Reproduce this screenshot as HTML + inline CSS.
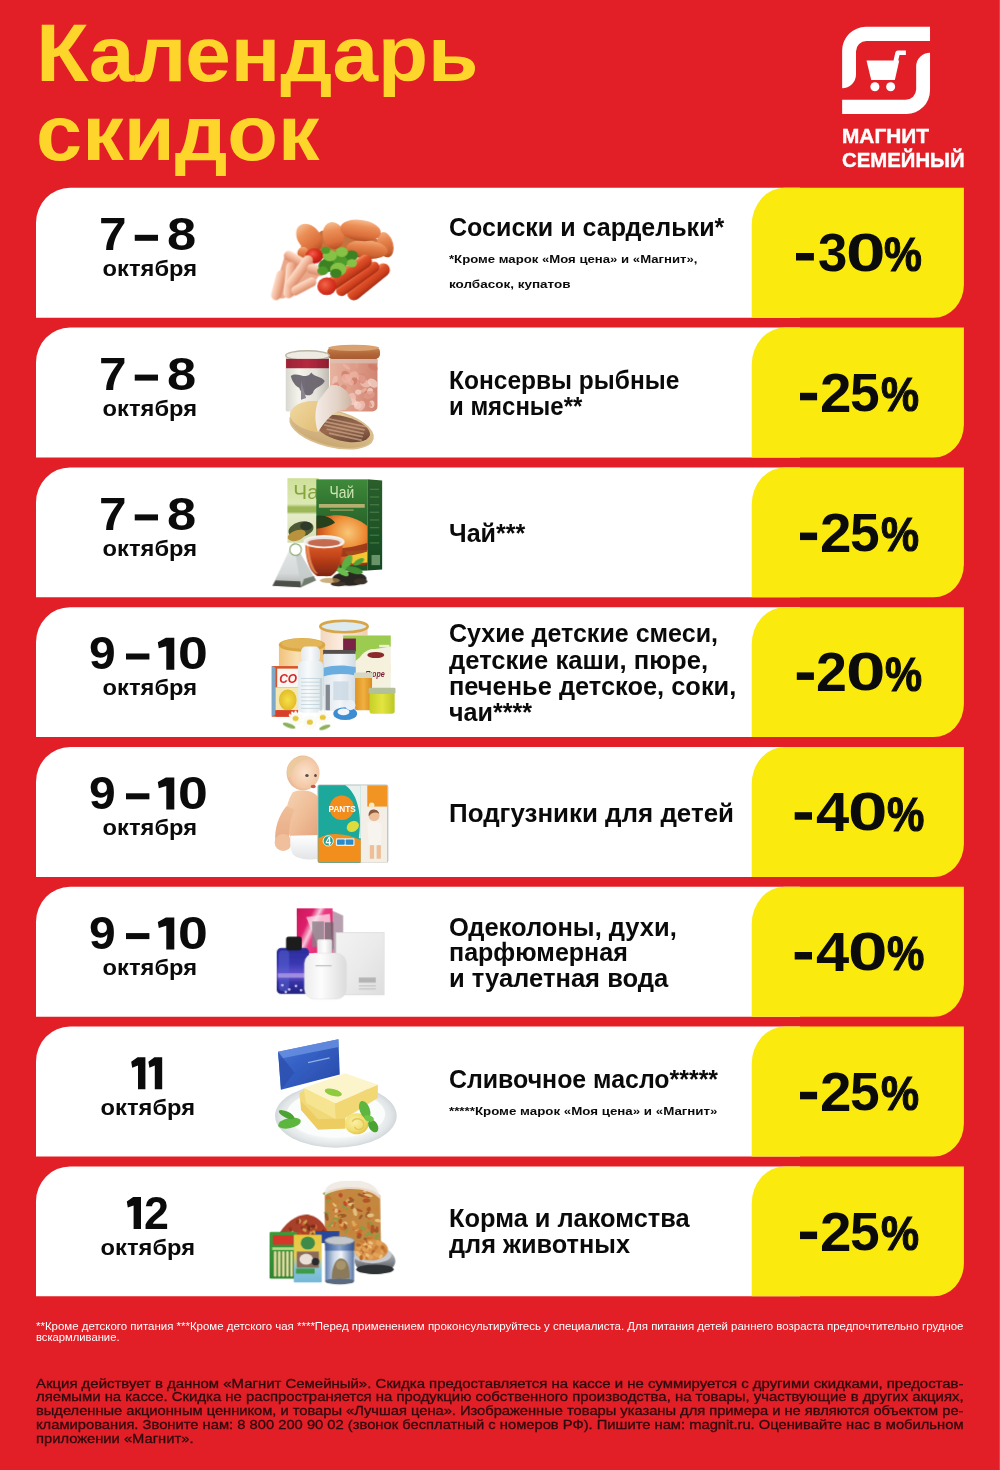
<!DOCTYPE html>
<html><head><meta charset="utf-8"><title>Календарь скидок</title>
<style>
html,body{margin:0;padding:0}
body{width:1000px;height:1470px;position:relative;overflow:hidden;background:#E21E26;font-family:"Liberation Sans", sans-serif;}
.t{position:absolute;white-space:pre;line-height:1;display:block}
.row{position:absolute;left:36px;width:760px;height:130px;background:#fff;border-top-left-radius:38px}
.yel{position:absolute;left:752px;width:212px;height:130px;background:#FBEA0D;border-top-left-radius:28px;border-bottom-right-radius:28px}
.pic{position:absolute;left:250px;width:170px;height:130px}
.f1{position:absolute;left:36px;width:927px;color:#fff;font-size:10px;line-height:11px}
.f2{position:absolute;left:36px;width:927px;color:#2a1012;font-size:13.5px;line-height:14px}
.j{display:block;text-align:justify;text-align-last:justify;white-space:nowrap}
</style></head><body>
<svg style="position:absolute;left:0;top:0" width="1000" height="1470"><path fill="#fff" d="M36,317.70 V222.80 A34,35 0 0 1 70,187.80 H800 V317.70 Z"/><path fill="#FBEA0D" d="M751.7,317.70 V224.80 A33,37 0 0 1 784.7,187.80 H963.9 V284.70 A30,33 0 0 1 933.9,317.70 Z"/><path fill="#fff" d="M36,457.50 V362.60 A34,35 0 0 1 70,327.60 H800 V457.50 Z"/><path fill="#FBEA0D" d="M751.7,457.50 V364.60 A33,37 0 0 1 784.7,327.60 H963.9 V424.50 A30,33 0 0 1 933.9,457.50 Z"/><path fill="#fff" d="M36,597.30 V502.40 A34,35 0 0 1 70,467.40 H800 V597.30 Z"/><path fill="#FBEA0D" d="M751.7,597.30 V504.40 A33,37 0 0 1 784.7,467.40 H963.9 V564.30 A30,33 0 0 1 933.9,597.30 Z"/><path fill="#fff" d="M36,737.10 V642.20 A34,35 0 0 1 70,607.20 H800 V737.10 Z"/><path fill="#FBEA0D" d="M751.7,737.10 V644.20 A33,37 0 0 1 784.7,607.20 H963.9 V704.10 A30,33 0 0 1 933.9,737.10 Z"/><path fill="#fff" d="M36,876.90 V782.00 A34,35 0 0 1 70,747.00 H800 V876.90 Z"/><path fill="#FBEA0D" d="M751.7,876.90 V784.00 A33,37 0 0 1 784.7,747.00 H963.9 V843.90 A30,33 0 0 1 933.9,876.90 Z"/><path fill="#fff" d="M36,1016.70 V921.80 A34,35 0 0 1 70,886.80 H800 V1016.70 Z"/><path fill="#FBEA0D" d="M751.7,1016.70 V923.80 A33,37 0 0 1 784.7,886.80 H963.9 V983.70 A30,33 0 0 1 933.9,1016.70 Z"/><path fill="#fff" d="M36,1156.50 V1061.60 A34,35 0 0 1 70,1026.60 H800 V1156.50 Z"/><path fill="#FBEA0D" d="M751.7,1156.50 V1063.60 A33,37 0 0 1 784.7,1026.60 H963.9 V1123.50 A30,33 0 0 1 933.9,1156.50 Z"/><path fill="#fff" d="M36,1296.30 V1201.40 A34,35 0 0 1 70,1166.40 H800 V1296.30 Z"/><path fill="#FBEA0D" d="M751.7,1296.30 V1203.40 A33,37 0 0 1 784.7,1166.40 H963.9 V1263.30 A30,33 0 0 1 933.9,1296.30 Z"/></svg>
<svg style="position:absolute;left:835px;top:20px" width="105" height="100" viewBox="0 0 1000 952">
<g fill="#fff">
<path d="M905,65 L293,65 A225,225 0 0 0 68,290 L68,650 A132,130 0 0 0 200,520 L200,300 A100,100 0 0 1 300,200 L905,200 Z"/>
<path d="M68,895 L680,895 A225,225 0 0 0 905,670 L905,312 A132,130 0 0 0 773,442 L773,660 A100,100 0 0 1 673,760 L68,760 Z"/>
<path d="M300,385 L612,385 L570,572 L345,572 Z"/>
<path d="M578,392 L597,312 L675,312" fill="none" stroke="#fff" stroke-width="44" stroke-linejoin="round"/>
<circle cx="380" cy="636" r="43"/><circle cx="530" cy="636" r="43"/>
</g></svg>
<svg width="0" height="0" style="position:absolute"><defs><linearGradient id="g1" x1="0" y1="0" x2="0" y2="1"><stop offset="0" stop-color="#F6BC90"/><stop offset="0.3" stop-color="#EC9058"/><stop offset="0.75" stop-color="#DB6E3A"/><stop offset="1" stop-color="#B45024"/></linearGradient><linearGradient id="g2" x1="0" y1="0" x2="0" y2="1"><stop offset="0" stop-color="#F2AC7C"/><stop offset="0.35" stop-color="#E6834C"/><stop offset="0.8" stop-color="#CE6230"/><stop offset="1" stop-color="#AC4C20"/></linearGradient><linearGradient id="g3" x1="0" y1="0" x2="0" y2="1"><stop offset="0" stop-color="#F58E5E"/><stop offset="0.3" stop-color="#E0522A"/><stop offset="0.75" stop-color="#C83C1C"/><stop offset="1" stop-color="#A22C14"/></linearGradient><linearGradient id="g4" x1="0" y1="0" x2="0" y2="1"><stop offset="0" stop-color="#FCE0CE"/><stop offset="0.45" stop-color="#F4B99C"/><stop offset="1" stop-color="#DB8A68"/></linearGradient><radialGradient id="g5" cx="0.4" cy="0.35" r="0.7"><stop offset="0" stop-color="#F2604A"/><stop offset="0.5" stop-color="#DA2A1E"/><stop offset="1" stop-color="#B01512"/></radialGradient><radialGradient id="g6" cx="0.4" cy="0.4" r="0.7"><stop offset="0" stop-color="#F0674A"/><stop offset="0.6" stop-color="#D9331F"/><stop offset="1" stop-color="#B8201A"/></radialGradient><linearGradient id="g7" x1="0" y1="0" x2="1" y2="0"><stop offset="0" stop-color="#E6B4A0"/><stop offset="0.5" stop-color="#DE9C88"/><stop offset="1" stop-color="#CF8470"/></linearGradient><linearGradient id="g8" x1="0" y1="0" x2="0" y2="1"><stop offset="0" stop-color="#C98A55"/><stop offset="0.5" stop-color="#B56A3A"/><stop offset="1" stop-color="#A85C30"/></linearGradient><linearGradient id="g9" x1="0" y1="0" x2="1" y2="0"><stop offset="0" stop-color="#D8D8D0"/><stop offset="0.3" stop-color="#F4F3EC"/><stop offset="0.7" stop-color="#E4E2DA"/><stop offset="1" stop-color="#BDBBB2"/></linearGradient><linearGradient id="g10" x1="0" y1="0" x2="1" y2="0"><stop offset="0" stop-color="#9C2336"/><stop offset="0.5" stop-color="#B52A40"/><stop offset="1" stop-color="#8E1E30"/></linearGradient><linearGradient id="g11" x1="0" y1="0" x2="0" y2="1"><stop offset="0" stop-color="#E8CFA0"/><stop offset="1" stop-color="#C9A772"/></linearGradient><linearGradient id="g12" x1="0" y1="0" x2="1" y2="1"><stop offset="0" stop-color="#6E4A38"/><stop offset="0.5" stop-color="#9A6A4E"/><stop offset="1" stop-color="#5A3A2C"/></linearGradient><linearGradient id="g13" x1="0" y1="0" x2="1" y2="1"><stop offset="0" stop-color="#F1E6D8"/><stop offset="0.5" stop-color="#E6CFB2"/><stop offset="1" stop-color="#D9B98C"/></linearGradient><linearGradient id="g14" x1="0" y1="0" x2="1" y2="1"><stop offset="0" stop-color="#F0D9A0"/><stop offset="1" stop-color="#E2BE78"/></linearGradient><linearGradient id="g15" x1="0" y1="0" x2="1" y2="0"><stop offset="0" stop-color="#F4ECE6"/><stop offset="0.6" stop-color="#E3D2C6"/><stop offset="1" stop-color="#CDB4A2"/></linearGradient><linearGradient id="g16" x1="0" y1="0" x2="0" y2="1"><stop offset="0" stop-color="#CFE09A"/><stop offset="0.4" stop-color="#DCE8B4"/><stop offset="0.45" stop-color="#9DB858"/><stop offset="0.52" stop-color="#9DB858"/><stop offset="0.56" stop-color="#E4EBC8"/><stop offset="1" stop-color="#D5DDB0"/></linearGradient><linearGradient id="g17" x1="0" y1="0" x2="0" y2="1"><stop offset="0" stop-color="#2A5E2C"/><stop offset="1" stop-color="#174A22"/></linearGradient><linearGradient id="g18" x1="0" y1="0" x2="0" y2="1"><stop offset="0" stop-color="#3E8A3A"/><stop offset="0.35" stop-color="#2E6E2E"/><stop offset="1" stop-color="#1E5224"/></linearGradient><radialGradient id="g19" cx="0.62" cy="0.35" r="0.75"><stop offset="0" stop-color="#F7C878"/><stop offset="0.45" stop-color="#EE8A34"/><stop offset="0.8" stop-color="#C94E1C"/><stop offset="1" stop-color="#7A2A14"/></radialGradient><linearGradient id="g20" x1="0" y1="0" x2="0" y2="1"><stop offset="0" stop-color="#D9622A"/><stop offset="0.4" stop-color="#C6451C"/><stop offset="1" stop-color="#7E2410"/></linearGradient><linearGradient id="g21" x1="0" y1="0" x2="0" y2="1"><stop offset="0" stop-color="#E8EAEA"/><stop offset="0.7" stop-color="#D2D6D6"/><stop offset="1" stop-color="#9FA3A0"/></linearGradient><linearGradient id="g22" x1="0" y1="0" x2="1" y2="0"><stop offset="0" stop-color="#F2D7BE"/><stop offset="0.4" stop-color="#FBEBDD"/><stop offset="1" stop-color="#EFCFB4"/></linearGradient><linearGradient id="g23" x1="0" y1="0" x2="1" y2="0"><stop offset="0" stop-color="#F1C27A"/><stop offset="0.4" stop-color="#F9E0B4"/><stop offset="1" stop-color="#EEBC70"/></linearGradient><linearGradient id="g24" x1="0" y1="0" x2="1" y2="0"><stop offset="0" stop-color="#DDE5EB"/><stop offset="0.5" stop-color="#F4F7F9"/><stop offset="1" stop-color="#D3DCE4"/></linearGradient><linearGradient id="g25" x1="0" y1="0" x2="1" y2="0"><stop offset="0" stop-color="#DD9424"/><stop offset="0.5" stop-color="#F0B040"/><stop offset="1" stop-color="#D98A20"/></linearGradient><linearGradient id="g26" x1="0" y1="0" x2="1" y2="0"><stop offset="0" stop-color="#C4D028"/><stop offset="0.5" stop-color="#E4E440"/><stop offset="1" stop-color="#BCC824"/></linearGradient><radialGradient id="g27" cx="0.5" cy="0.5" r="0.5"><stop offset="0" stop-color="#F6E04A"/><stop offset="1" stop-color="#E2BC28"/></radialGradient><linearGradient id="g28" x1="0" y1="0" x2="1" y2="0"><stop offset="0" stop-color="#E4E9EC"/><stop offset="0.5" stop-color="#FAFBFC"/><stop offset="1" stop-color="#DDE3E8"/></linearGradient><linearGradient id="g29" x1="0" y1="0" x2="1" y2="0"><stop offset="0" stop-color="#E2EAEE"/><stop offset="0.4" stop-color="#F8FBFC"/><stop offset="1" stop-color="#DAE4E8"/></linearGradient><linearGradient id="g30" x1="0" y1="0" x2="1" y2="1"><stop offset="0" stop-color="#F6D3B4"/><stop offset="0.5" stop-color="#EFBE98"/><stop offset="1" stop-color="#E3A27A"/></linearGradient><linearGradient id="g31" x1="0" y1="0" x2="0" y2="1"><stop offset="0" stop-color="#EFBE98"/><stop offset="1" stop-color="#E6A884"/></linearGradient><linearGradient id="g32" x1="0" y1="0" x2="0" y2="1"><stop offset="0" stop-color="#FFFFFF"/><stop offset="1" stop-color="#E2E4E6"/></linearGradient><radialGradient id="g33" cx="0.55" cy="0.5" r="0.6"><stop offset="0" stop-color="#FBE2CC"/><stop offset="0.7" stop-color="#F3C8A6"/><stop offset="1" stop-color="#E4AC86"/></radialGradient><linearGradient id="g34" x1="0" y1="0" x2="1" y2="0.6"><stop offset="0" stop-color="#C9185A"/><stop offset="0.35" stop-color="#E0206C"/><stop offset="0.5" stop-color="#F6C9DC"/><stop offset="0.6" stop-color="#EE3E86"/><stop offset="1" stop-color="#E01E66"/></linearGradient><linearGradient id="g35" x1="0" y1="0" x2="1" y2="1"><stop offset="0" stop-color="#F3F3F3"/><stop offset="0.5" stop-color="#EBEBEB"/><stop offset="1" stop-color="#DEDEDE"/></linearGradient><linearGradient id="g36" x1="0" y1="0" x2="0" y2="1"><stop offset="0" stop-color="#2A2C98"/><stop offset="0.35" stop-color="#3A38B4"/><stop offset="0.6" stop-color="#6E58D0"/><stop offset="0.75" stop-color="#3432A4"/><stop offset="1" stop-color="#23247E"/></linearGradient><linearGradient id="g37" x1="0" y1="0" x2="1" y2="0"><stop offset="0" stop-color="#E9E9E9"/><stop offset="0.5" stop-color="#FFFFFF"/><stop offset="1" stop-color="#DADADA"/></linearGradient><linearGradient id="g38" x1="0" y1="0" x2="1" y2="0"><stop offset="0" stop-color="#EDEDED"/><stop offset="0.4" stop-color="#FDFDFD"/><stop offset="1" stop-color="#DCDCDC"/></linearGradient><radialGradient id="g39" cx="0.5" cy="0.5" r="0.5"><stop offset="0" stop-color="#FFFFFF"/><stop offset="0.7" stop-color="#F4F6F6"/><stop offset="0.9" stop-color="#E2E6E8"/><stop offset="1" stop-color="#D2D8DA"/></radialGradient><linearGradient id="g40" x1="0" y1="0" x2="1" y2="1"><stop offset="0" stop-color="#4C78D6"/><stop offset="0.4" stop-color="#3560C4"/><stop offset="1" stop-color="#2748A6"/></linearGradient><radialGradient id="g41" cx="0.4" cy="0.4" r="0.6"><stop offset="0" stop-color="#FBF0A8"/><stop offset="0.7" stop-color="#F2DE70"/><stop offset="1" stop-color="#E6C84E"/></radialGradient><linearGradient id="g42" x1="0" y1="0" x2="0" y2="1"><stop offset="0" stop-color="#D0D4D8"/><stop offset="0.5" stop-color="#8A8E94"/><stop offset="1" stop-color="#3E4044"/></linearGradient><linearGradient id="g43" x1="0" y1="0" x2="0" y2="1"><stop offset="0" stop-color="#3E9A3A"/><stop offset="1" stop-color="#2E8630"/></linearGradient><linearGradient id="g44" x1="0" y1="0" x2="0" y2="1"><stop offset="0" stop-color="#E9C83C"/><stop offset="0.45" stop-color="#E4CC58"/><stop offset="0.7" stop-color="#8CC4D8"/><stop offset="1" stop-color="#74B8D8"/></linearGradient><linearGradient id="g45" x1="0" y1="0" x2="1" y2="0"><stop offset="0" stop-color="#5E7EB0"/><stop offset="0.3" stop-color="#C9D6E6"/><stop offset="0.55" stop-color="#F2F5F8"/><stop offset="1" stop-color="#5A78A8"/></linearGradient><linearGradient id="g46" x1="0" y1="0" x2="1" y2="0"><stop offset="0" stop-color="#3A5A9A"/><stop offset="0.5" stop-color="#8AA4CC"/><stop offset="1" stop-color="#34528E"/></linearGradient><filter id="soft" x="-5%" y="-5%" width="110%" height="110%"><feGaussianBlur stdDeviation="4"/></filter></defs></svg>
<svg class="pic" style="top:190px" viewBox="0 0 1000 765"><g filter="url(#soft)"><path d="M300,330 L420,240 L560,230 L780,300 L800,380 L560,400 L420,400 L300,400Z" fill="#C8723C" /><ellipse cx="348" cy="282" rx="66" ry="92" fill="url(#g1)" transform="rotate(-38 348 282)" /><ellipse cx="312" cy="372" rx="34" ry="38" fill="url(#g2)" transform="rotate(0 312 372)" /><ellipse cx="490" cy="268" rx="62" ry="80" fill="url(#g1)" transform="rotate(-12 490 268)" /><ellipse cx="796" cy="322" rx="46" ry="76" fill="url(#g2)" transform="rotate(-15 796 322)" /><ellipse cx="688" cy="350" rx="122" ry="55" fill="url(#g2)" transform="rotate(5 688 350)" /><ellipse cx="650" cy="238" rx="120" ry="62" fill="url(#g1)" transform="rotate(8 650 238)" /><ellipse cx="378" cy="388" rx="52" ry="44" fill="url(#g5)" transform="rotate(0 378 388)" /><path d="M140,600 L200,400 L250,380 L360,420 L430,470 L380,540 L270,620 L180,640Z" fill="#E9A88A" /><rect x="193.0" y="379.0" width="150" height="58" rx="29.0" fill="url(#g4)" transform="rotate(28 268 408)" /><rect x="78.0" y="530.0" width="180" height="60" rx="30.0" fill="url(#g4)" transform="rotate(-75 168 560)" /><rect x="126.5" y="500.0" width="215" height="60" rx="30.0" fill="url(#g4)" transform="rotate(-84 234 530)" /><rect x="179.5" y="450.0" width="225" height="60" rx="30.0" fill="url(#g4)" transform="rotate(-54 292 480)" /><rect x="236.0" y="538.0" width="160" height="56" rx="28.0" fill="url(#g4)" transform="rotate(-28 316 566)" /><rect x="333.0" y="441.0" width="110" height="58" rx="29.0" fill="url(#g4)" transform="rotate(14 388 470)" /><rect x="548.0" y="501.0" width="300" height="78" rx="39.0" fill="url(#g3)" transform="rotate(-39 698 540)" /><rect x="484.0" y="490.0" width="300" height="64" rx="32.0" fill="url(#g3)" transform="rotate(-36 634 522)" /><rect x="382.0" y="459.0" width="360" height="78" rx="39.0" fill="url(#g3)" transform="rotate(-34 562 498)" /><ellipse cx="452" cy="566" rx="56" ry="52" fill="url(#g6)" transform="rotate(0 452 566)" /><ellipse cx="500" cy="425" rx="72" ry="57.6" fill="#4F9B2C" transform="rotate(0 500 425)" /><ellipse cx="450" cy="445" rx="48" ry="38.400000000000006" fill="#3C8222" transform="rotate(0 450 445)" /><ellipse cx="565" cy="400" rx="52" ry="41.6" fill="#4F9B2C" transform="rotate(0 565 400)" /><ellipse cx="520" cy="465" rx="48" ry="38.400000000000006" fill="#86C244" transform="rotate(0 520 465)" /><ellipse cx="470" cy="385" rx="42" ry="33.6" fill="#86C244" transform="rotate(0 470 385)" /><ellipse cx="598" cy="385" rx="38" ry="30.400000000000002" fill="#3C8222" transform="rotate(0 598 385)" /><ellipse cx="428" cy="475" rx="32" ry="25.6" fill="#4F9B2C" transform="rotate(0 428 475)" /><ellipse cx="540" cy="365" rx="36" ry="28.8" fill="#86C244" transform="rotate(0 540 365)" /><ellipse cx="505" cy="490" rx="34" ry="27.200000000000003" fill="#3C8222" transform="rotate(0 505 490)" /><ellipse cx="445" cy="355" rx="26" ry="20.8" fill="#4F9B2C" transform="rotate(0 445 355)" /><ellipse cx="600" cy="430" rx="30" ry="24.0" fill="#86C244" transform="rotate(0 600 430)" /></g></svg>
<svg class="pic" style="top:330px" viewBox="0 0 1000 765"><g filter="url(#soft)"><rect x="470" y="150" width="280" height="330" rx="30" fill="url(#g7)" /><ellipse cx="549.731864231135" cy="341.94189082990704" rx="21.399103330961587" ry="18.45488054034672" fill="#D98A78" transform="rotate(112.62965473944972 549.731864231135 341.94189082990704)" opacity="0.75"/><ellipse cx="634.2878919320451" cy="440.3809680500377" rx="23.384646752380434" ry="17.710984984641026" fill="#F6D6CC" transform="rotate(34.51393871915391 634.2878919320451 440.3809680500377)" opacity="0.75"/><ellipse cx="603.1606067301631" cy="420.84459184408496" rx="23.527064173986698" ry="18.946953967618267" fill="#F6D6CC" transform="rotate(27.11095632423431 603.1606067301631 420.84459184408496)" opacity="0.75"/><ellipse cx="529.8731465611638" cy="444.97557737871205" rx="21.798734417744257" ry="10.212054322658185" fill="#F2C6BA" transform="rotate(139.90224265698834 529.8731465611638 444.97557737871205)" opacity="0.75"/><ellipse cx="669.392956645968" cy="354.59688739145577" rx="20.02535319031425" ry="10.4341645205765" fill="#EDB4A4" transform="rotate(155.7949026562102 669.392956645968 354.59688739145577)" opacity="0.75"/><ellipse cx="631.7923885980956" cy="443.44228727578707" rx="21.752171712239008" ry="21.033523968572773" fill="#F6D6CC" transform="rotate(76.84827946941117 631.7923885980956 443.44228727578707)" opacity="0.75"/><ellipse cx="679.2090173266025" cy="315.0476851337054" rx="32.71173443409042" ry="22.304133244732583" fill="#F2C6BA" transform="rotate(17.541775751557896 679.2090173266025 315.0476851337054)" opacity="0.75"/><ellipse cx="608.8231848173365" cy="264.6549309095713" rx="27.44082466306714" ry="20.905616199769646" fill="#EDB4A4" transform="rotate(153.94060443479356 608.8231848173365 264.6549309095713)" opacity="0.75"/><ellipse cx="611.6658862806837" cy="299.1838898881237" rx="21.0182097754036" ry="18.19103750367509" fill="#CE7A68" transform="rotate(105.16532273463581 611.6658862806837 299.1838898881237)" opacity="0.75"/><ellipse cx="651.8558914260423" cy="445.8153123240046" rx="31.128011327935113" ry="23.873855028163412" fill="#F2C6BA" transform="rotate(120.82923758925328 651.8558914260423 445.8153123240046)" opacity="0.75"/><ellipse cx="655.6816501762466" cy="283.1253778968073" rx="24.83531884919047" ry="18.007378443833478" fill="#F6D6CC" transform="rotate(18.733645740800075 655.6816501762466 283.1253778968073)" opacity="0.75"/><ellipse cx="543.5587462453876" cy="419.53414117380566" rx="25.470647047025693" ry="13.989404467806873" fill="#F6D6CC" transform="rotate(11.422903886141283 543.5587462453876 419.53414117380566)" opacity="0.75"/><ellipse cx="722.6553834319636" cy="218.89988513962666" rx="30.011906425150038" ry="15.746465582842724" fill="#CE7A68" transform="rotate(27.137767401505723 722.6553834319636 218.89988513962666)" opacity="0.75"/><ellipse cx="593.2426051558713" cy="307.1032721970014" rx="16.378344542412467" ry="18.469838131989953" fill="#EDB4A4" transform="rotate(137.09421521491737 593.2426051558713 307.1032721970014)" opacity="0.75"/><ellipse cx="660.2413098131588" cy="284.35761942513204" rx="31.618106144947163" ry="23.728900595806756" fill="#D98A78" transform="rotate(90.97566725664792 660.2413098131588 284.35761942513204)" opacity="0.75"/><ellipse cx="566.224112299558" cy="215.7820902704612" rx="25.995256175932013" ry="10.439288670454449" fill="#EDB4A4" transform="rotate(35.529274157115495 566.224112299558 215.7820902704612)" opacity="0.75"/><ellipse cx="562.0708517015535" cy="266.1107652796337" rx="27.794661468630405" ry="23.718407885349592" fill="#CE7A68" transform="rotate(61.1664882040731 562.0708517015535 266.1107652796337)" opacity="0.75"/><ellipse cx="715.4916680739447" cy="437.09810318545243" rx="21.555784788243653" ry="16.445734859842666" fill="#F6D6CC" transform="rotate(93.61313722666151 715.4916680739447 437.09810318545243)" opacity="0.75"/><ellipse cx="694.371483378109" cy="378.8621259555257" rx="16.051456514019687" ry="23.620366805558632" fill="#CE7A68" transform="rotate(146.07216619897503 694.371483378109 378.8621259555257)" opacity="0.75"/><ellipse cx="594.1740572891146" cy="389.48403807891737" rx="18.75271238929568" ry="14.215216056438091" fill="#E29C8C" transform="rotate(176.00351696075435 594.1740572891146 389.48403807891737)" opacity="0.75"/><ellipse cx="564.688421682559" cy="286.5051765970403" rx="29.767929317833534" ry="23.8243830361926" fill="#EDB4A4" transform="rotate(56.67775067396103 564.688421682559 286.5051765970403)" opacity="0.75"/><ellipse cx="636.6335265004391" cy="365.6887445299511" rx="15.20161021255446" ry="18.782775526153383" fill="#F6D6CC" transform="rotate(83.9250773454074 636.6335265004391 365.6887445299511)" opacity="0.75"/><ellipse cx="705.9878774068707" cy="359.39325780329534" rx="19.57848822147165" ry="16.8530401759636" fill="#F6D6CC" transform="rotate(106.0878522016393 705.9878774068707 359.39325780329534)" opacity="0.75"/><ellipse cx="499.88809162050694" cy="294.67450311633206" rx="26.559386857794543" ry="14.180908190439688" fill="#F2C6BA" transform="rotate(108.26184062365121 499.88809162050694 294.67450311633206)" opacity="0.75"/><ellipse cx="578.70967054819" cy="279.42107852316593" rx="21.38307950553908" ry="18.33870108200551" fill="#EDB4A4" transform="rotate(54.07271520580608 578.70967054819 279.42107852316593)" opacity="0.75"/><ellipse cx="519.1204969407833" cy="414.5253472571725" rx="33.42749002117783" ry="19.57225990513283" fill="#E29C8C" transform="rotate(23.65574014040086 519.1204969407833 414.5253472571725)" opacity="0.75"/><ellipse cx="546.1837038424339" cy="412.0280710066266" rx="18.77390353795684" ry="12.623520772851187" fill="#F6D6CC" transform="rotate(78.34217769590778 546.1837038424339 412.0280710066266)" opacity="0.75"/><ellipse cx="517.3151503013341" cy="357.1955159822912" rx="32.982981344126706" ry="19.44898356251079" fill="#F2C6BA" transform="rotate(40.4028659978325 517.3151503013341 357.1955159822912)" opacity="0.75"/><ellipse cx="513.3881178307784" cy="395.3588682827558" rx="18.360394609704354" ry="17.957621889676382" fill="#D98A78" transform="rotate(48.70797858018435 513.3881178307784 395.3588682827558)" opacity="0.75"/><ellipse cx="502.79905044894184" cy="453.5468780362384" rx="20.302817882117218" ry="21.70687016650043" fill="#CE7A68" transform="rotate(103.4703516441996 502.79905044894184 453.5468780362384)" opacity="0.75"/><ellipse cx="573.2252234642363" cy="418.54553992541923" rx="15.710680545308863" ry="18.67064856614142" fill="#EDB4A4" transform="rotate(106.10653522121939 573.2252234642363 418.54553992541923)" opacity="0.75"/><ellipse cx="562.1468649002272" cy="409.3427196107245" rx="19.423489878285046" ry="14.848959929335948" fill="#EDB4A4" transform="rotate(75.04302525722812 562.1468649002272 409.3427196107245)" opacity="0.75"/><ellipse cx="625.7164193256951" cy="204.59695040110753" rx="22.265312635302223" ry="12.793994814643748" fill="#E29C8C" transform="rotate(85.9234552814678 625.7164193256951 204.59695040110753)" opacity="0.75"/><ellipse cx="721.990140656623" cy="312.2751244224258" rx="33.00322332766046" ry="22.98328100175874" fill="#F6D6CC" transform="rotate(39.976332529017824 721.990140656623 312.2751244224258)" opacity="0.75"/><ellipse cx="600.0343861612729" cy="398.4127242044102" rx="28.960288631769266" ry="23.48712509905238" fill="#F2C6BA" transform="rotate(97.89498881542956 600.0343861612729 398.4127242044102)" opacity="0.75"/><ellipse cx="693.152158526" cy="426.65489635574056" rx="33.41928271755742" ry="11.679948518743263" fill="#D98A78" transform="rotate(44.016109467400796 693.152158526 426.65489635574056)" opacity="0.75"/><ellipse cx="702.8301348140786" cy="382.3005139702588" rx="32.477095991144836" ry="22.55194030977668" fill="#E29C8C" transform="rotate(161.94147048428366 702.8301348140786 382.3005139702588)" opacity="0.75"/><ellipse cx="506.3520767764988" cy="324.8829139860759" rx="16.416278745505448" ry="17.044620232272393" fill="#D98A78" transform="rotate(43.028317088792456 506.3520767764988 324.8829139860759)" opacity="0.75"/><rect x="470" y="170" width="280" height="26" rx="0" fill="#D9C4B8" opacity="0.7"/><rect x="455" y="100" width="310" height="70" rx="28" fill="url(#g8)" /><ellipse cx="610" cy="105" rx="150" ry="18" fill="#D9A070" transform="rotate(0 610 105)" /><rect x="210" y="150" width="255" height="330" rx="10" fill="url(#g9)" /><ellipse cx="338" cy="150" rx="128" ry="28" fill="#EDEBE2" transform="rotate(0 338 150)" stroke="#B9B4A4" stroke-width="8"/><rect x="212" y="170" width="252" height="55" rx="0" fill="url(#g10)" /><path d="M240,270 C280,240 330,300 360,250 C380,280 420,270 440,300 C420,340 380,330 370,370 C350,400 300,380 290,340 C270,330 250,310 240,270Z" fill="#5B5560" opacity="0.85"/><path d="M300,300 L330,400 L300,410 Z" fill="#8A8590" /><ellipse cx="480" cy="580" rx="250" ry="105" fill="url(#g11)" transform="rotate(14 480 580)" stroke="#D9BE8E" stroke-width="10"/><ellipse cx="545" cy="580" rx="165" ry="72" fill="url(#g12)" transform="rotate(14 545 580)" /><rect x="405.0" y="535.0" width="280" height="10" rx="5.0" fill="#C9A58A" transform="rotate(12 545 540)" opacity="0.7"/><rect x="419.0" y="557.0" width="260" height="10" rx="5.0" fill="#C9A58A" transform="rotate(12 549 562)" opacity="0.7"/><rect x="433.0" y="579.0" width="240" height="10" rx="5.0" fill="#C9A58A" transform="rotate(12 553 584)" opacity="0.7"/><rect x="447.0" y="601.0" width="220" height="10" rx="5.0" fill="#C9A58A" transform="rotate(12 557 606)" opacity="0.7"/><rect x="461.0" y="623.0" width="200" height="10" rx="5.0" fill="#C9A58A" transform="rotate(12 561 628)" opacity="0.7"/><path d="M235,500 C240,440 330,410 400,420 L470,330 C520,310 590,360 600,430 L560,470 C500,470 450,520 400,600 C330,590 250,560 235,500Z" fill="url(#g13)" /><path d="M235,500 C240,440 330,410 400,420 C380,480 380,540 400,600 C330,590 250,560 235,500Z" fill="url(#g14)" /><path d="M400,420 L470,330 C520,310 590,360 600,430 L560,470 C500,470 450,520 400,600 C380,540 380,480 400,420Z" fill="url(#g15)" /></g></svg>
<svg class="pic" style="top:470px" viewBox="0 0 1000 765"><g filter="url(#soft)"><rect x="220" y="48" width="185" height="380" rx="0" fill="url(#g16)" /><text x="255" y="170" font-family="Liberation Sans, sans-serif" font-size="120" fill="#86A63E" textLength="150" lengthAdjust="spacingAndGlyphs">Ча</text><ellipse cx="300" cy="350" rx="75" ry="45" fill="#4E5A34" transform="rotate(-15 300 350)" /><ellipse cx="275" cy="385" rx="55" ry="30" fill="#B8923E" transform="rotate(-20 275 385)" /><ellipse cx="330" cy="330" rx="35" ry="25" fill="#2F3A2A" transform="rotate(0 330 330)" /><polygon points="690,55 778,62 778,585 690,592" fill="url(#g17)" /><rect x="705" y="110" width="55" height="8" rx="0" fill="#5E9A58" opacity="0.5"/><rect x="705" y="155" width="55" height="8" rx="0" fill="#5E9A58" opacity="0.5"/><rect x="705" y="200" width="55" height="8" rx="0" fill="#5E9A58" opacity="0.5"/><rect x="705" y="245" width="55" height="8" rx="0" fill="#5E9A58" opacity="0.5"/><rect x="705" y="290" width="55" height="8" rx="0" fill="#5E9A58" opacity="0.5"/><rect x="705" y="335" width="55" height="8" rx="0" fill="#5E9A58" opacity="0.5"/><rect x="705" y="380" width="55" height="8" rx="0" fill="#5E9A58" opacity="0.5"/><rect x="705" y="425" width="55" height="8" rx="0" fill="#5E9A58" opacity="0.5"/><rect x="715" y="500" width="50" height="60" rx="0" fill="#9FC59A" opacity="0.6"/><rect x="390" y="55" width="300" height="537" rx="0" fill="url(#g18)" /><text x="468" y="165" font-family="Liberation Sans, sans-serif" font-size="100" fill="#CFE6B4" textLength="145" lengthAdjust="spacingAndGlyphs">Чай</text><rect x="405" y="200" width="270" height="22" rx="0" fill="#CDBB7A" opacity="0.85"/><rect x="470" y="232" width="140" height="8" rx="0" fill="#BFAF70" opacity="0.7"/><path d="M392,300 C450,250 600,250 690,330 L690,560 L392,560 Z" fill="url(#g19)" /><path d="M392,270 C430,260 480,280 500,310 C470,330 430,340 392,345 Z" fill="#25401F" /><path d="M560,480 L690,470 L690,545 L600,550 Z" fill="#F4C630" /><path d="M392,440 C470,470 560,470 690,430 L690,480 C560,520 470,520 392,500Z" fill="#8E2A18" opacity="0.8"/><ellipse cx="585" cy="640" rx="100" ry="42" fill="#2B2622" transform="rotate(0 585 640)" /><ellipse cx="520" cy="670" rx="45" ry="14" fill="#3A332C" transform="rotate(0 520 670)" /><ellipse cx="650" cy="655" rx="40" ry="18" fill="#3A332C" transform="rotate(0 650 655)" /><ellipse cx="470" cy="650" rx="60" ry="16" fill="#B98A4A" transform="rotate(0 470 650)" opacity="0.7"/><ellipse cx="480" cy="590" rx="55" ry="22" fill="#4FA23A" transform="rotate(-35 480 590)" /><ellipse cx="570" cy="545" rx="50" ry="24" fill="#5DB044" transform="rotate(-60 570 545)" /><ellipse cx="615" cy="590" rx="50" ry="20" fill="#3F8E30" transform="rotate(15 615 590)" /><ellipse cx="545" cy="600" rx="40" ry="18" fill="#6BBE4E" transform="rotate(30 545 600)" /><ellipse cx="640" cy="540" rx="35" ry="15" fill="#4FA23A" transform="rotate(-30 640 540)" /><path d="M325,425 L545,425 C545,540 510,610 470,625 L400,625 C360,610 325,540 325,425Z" fill="url(#g20)" /><path d="M345,440 C350,520 370,580 400,610 L385,610 C350,580 332,520 330,440Z" fill="#F3A36A" opacity="0.7"/><ellipse cx="435" cy="422" rx="116" ry="34" fill="#E9E4E2" transform="rotate(0 435 422)" stroke="#F7F5F4" stroke-width="10"/><ellipse cx="435" cy="428" rx="95" ry="22" fill="#B8431E" transform="rotate(0 435 428)" opacity="0.75"/><polygon points="255,420 132,680 300,690 388,650" fill="url(#g21)" opacity="0.92"/><polygon points="255,420 300,690 388,650" fill="#C4C9C9" opacity="0.8"/><polygon points="150,650 132,682 300,690 296,655" fill="#4C5046" /><polygon points="318,640 300,688 388,650 375,625" fill="#5E6A5A" opacity="0.8"/><ellipse cx="268" cy="468" rx="34" ry="34" fill="#FFFFFF" transform="rotate(0 268 468)" stroke="#7A9A5A" stroke-width="6"/></g></svg>
<svg class="pic" style="top:610px" viewBox="0 0 1000 765"><g filter="url(#soft)"><rect x="415" y="95" width="277" height="250" rx="0" fill="url(#g22)" /><ellipse cx="553" cy="97" rx="139" ry="34" fill="#DDEAF0" transform="rotate(0 553 97)" stroke="#D6A648" stroke-width="16"/><rect x="170" y="205" width="272" height="300" rx="0" fill="url(#g23)" /><ellipse cx="306" cy="205" rx="137" ry="40" fill="#D9A742" transform="rotate(0 306 205)" /><ellipse cx="306" cy="198" rx="120" ry="30" fill="#E2B658" transform="rotate(0 306 198)" /><rect x="548" y="150" width="280" height="320" rx="0" fill="#F3F1E2" /><polygon points="548,150 828,150 828,215 700,235 620,300 548,330" fill="#9CCC50" /><rect x="548" y="168" width="75" height="75" rx="0" fill="#7A2245" /><ellipse cx="730" cy="340" rx="100" ry="110" fill="#F6F1DC" transform="rotate(0 730 340)" /><ellipse cx="740" cy="265" rx="50" ry="18" fill="#8A2A2A" transform="rotate(0 740 265)" /><text x="678" y="395" font-family="Liberation Sans, sans-serif" font-size="52" fill="#7A1E3A" font-weight="700" font-style="italic" textLength="115" lengthAdjust="spacingAndGlyphs">Пюре</text><rect x="760" y="205" width="60" height="14" rx="0" fill="#E9F2D0" /><rect x="430" y="235" width="190" height="30" rx="0" fill="#55504E" /><rect x="432" y="258" width="190" height="335" rx="0" fill="url(#g24)" /><path d="M432,340 C500,320 560,325 622,335 L622,385 C560,375 500,372 432,392Z" fill="#6AAEE0" /><rect x="490" y="420" width="90" height="110" rx="0" fill="#C9D8E4" opacity="0.8"/><rect x="445" y="440" width="25" height="150" rx="0" fill="#5A5F66" opacity="0.7"/><rect x="618" y="392" width="100" height="198" rx="12" fill="url(#g25)" /><rect x="612" y="368" width="112" height="32" rx="8" fill="#D4D8C4" /><rect x="703" y="485" width="148" height="125" rx="16" fill="url(#g26)" /><rect x="698" y="458" width="158" height="36" rx="8" fill="#B4C09A" /><rect x="128" y="330" width="155" height="298" rx="0" fill="#D8532A" /><polygon points="128,330 150,340 150,615 128,628" fill="#7FA8C8" /><rect x="160" y="345" width="123" height="110" rx="0" fill="#FAF6F0" /><text x="172" y="428" font-family="Liberation Sans, sans-serif" font-size="70" fill="#D8262A" font-weight="700" font-style="italic">СО</text><rect x="150" y="455" width="133" height="135" rx="0" fill="#F4E8B0" /><ellipse cx="222" cy="530" rx="52" ry="62" fill="url(#g27)" transform="rotate(0 222 530)" /><rect x="150" y="590" width="133" height="38" rx="0" fill="#D8402A" /><rect x="300" y="215" width="112" height="95" rx="30" fill="url(#g28)" /><rect x="282" y="300" width="150" height="305" rx="30" fill="url(#g29)" /><rect x="300" y="400" width="110" height="5" rx="0" fill="#9DB8C4" opacity="0.55"/><rect x="300" y="422" width="110" height="5" rx="0" fill="#9DB8C4" opacity="0.55"/><rect x="300" y="444" width="110" height="5" rx="0" fill="#9DB8C4" opacity="0.55"/><rect x="300" y="466" width="110" height="5" rx="0" fill="#9DB8C4" opacity="0.55"/><rect x="300" y="488" width="110" height="5" rx="0" fill="#9DB8C4" opacity="0.55"/><rect x="300" y="510" width="110" height="5" rx="0" fill="#9DB8C4" opacity="0.55"/><rect x="300" y="532" width="110" height="5" rx="0" fill="#9DB8C4" opacity="0.55"/><rect x="300" y="554" width="110" height="5" rx="0" fill="#9DB8C4" opacity="0.55"/><rect x="300" y="576" width="110" height="5" rx="0" fill="#9DB8C4" opacity="0.55"/><rect x="410" y="400" width="14" height="190" rx="0" fill="#B8C4CC" opacity="0.6"/><ellipse cx="560" cy="610" rx="70" ry="38" fill="#3E8ED0" transform="rotate(0 560 610)" /><ellipse cx="550" cy="600" rx="35" ry="20" fill="#F2F6FA" transform="rotate(0 550 600)" /><ellipse cx="590" cy="560" rx="30" ry="30" fill="#EAF0F4" transform="rotate(0 590 560)" /><ellipse cx="268" cy="638" rx="46" ry="11" fill="#FBFBF6" transform="rotate(0 268 638)" /><ellipse cx="268" cy="638" rx="46" ry="11" fill="#FBFBF6" transform="rotate(30 268 638)" /><ellipse cx="268" cy="638" rx="46" ry="11" fill="#FBFBF6" transform="rotate(60 268 638)" /><ellipse cx="268" cy="638" rx="46" ry="11" fill="#FBFBF6" transform="rotate(90 268 638)" /><ellipse cx="268" cy="638" rx="46" ry="11" fill="#FBFBF6" transform="rotate(120 268 638)" /><ellipse cx="268" cy="638" rx="46" ry="11" fill="#FBFBF6" transform="rotate(150 268 638)" /><ellipse cx="268" cy="638" rx="46" ry="11" fill="#FBFBF6" transform="rotate(180 268 638)" /><ellipse cx="268" cy="638" rx="46" ry="11" fill="#FBFBF6" transform="rotate(210 268 638)" /><ellipse cx="268" cy="638" rx="46" ry="11" fill="#FBFBF6" transform="rotate(240 268 638)" /><ellipse cx="268" cy="638" rx="46" ry="11" fill="#FBFBF6" transform="rotate(270 268 638)" /><ellipse cx="268" cy="638" rx="46" ry="11" fill="#FBFBF6" transform="rotate(300 268 638)" /><ellipse cx="268" cy="638" rx="46" ry="11" fill="#FBFBF6" transform="rotate(330 268 638)" /><ellipse cx="268" cy="638" rx="18" ry="15" fill="#E6C63A" transform="rotate(0 268 638)" /><ellipse cx="352" cy="660" rx="46" ry="11" fill="#FBFBF6" transform="rotate(0 352 660)" /><ellipse cx="352" cy="660" rx="46" ry="11" fill="#FBFBF6" transform="rotate(30 352 660)" /><ellipse cx="352" cy="660" rx="46" ry="11" fill="#FBFBF6" transform="rotate(60 352 660)" /><ellipse cx="352" cy="660" rx="46" ry="11" fill="#FBFBF6" transform="rotate(90 352 660)" /><ellipse cx="352" cy="660" rx="46" ry="11" fill="#FBFBF6" transform="rotate(120 352 660)" /><ellipse cx="352" cy="660" rx="46" ry="11" fill="#FBFBF6" transform="rotate(150 352 660)" /><ellipse cx="352" cy="660" rx="46" ry="11" fill="#FBFBF6" transform="rotate(180 352 660)" /><ellipse cx="352" cy="660" rx="46" ry="11" fill="#FBFBF6" transform="rotate(210 352 660)" /><ellipse cx="352" cy="660" rx="46" ry="11" fill="#FBFBF6" transform="rotate(240 352 660)" /><ellipse cx="352" cy="660" rx="46" ry="11" fill="#FBFBF6" transform="rotate(270 352 660)" /><ellipse cx="352" cy="660" rx="46" ry="11" fill="#FBFBF6" transform="rotate(300 352 660)" /><ellipse cx="352" cy="660" rx="46" ry="11" fill="#FBFBF6" transform="rotate(330 352 660)" /><ellipse cx="352" cy="660" rx="18" ry="15" fill="#E6C63A" transform="rotate(0 352 660)" /><ellipse cx="428" cy="632" rx="46" ry="11" fill="#FBFBF6" transform="rotate(0 428 632)" /><ellipse cx="428" cy="632" rx="46" ry="11" fill="#FBFBF6" transform="rotate(30 428 632)" /><ellipse cx="428" cy="632" rx="46" ry="11" fill="#FBFBF6" transform="rotate(60 428 632)" /><ellipse cx="428" cy="632" rx="46" ry="11" fill="#FBFBF6" transform="rotate(90 428 632)" /><ellipse cx="428" cy="632" rx="46" ry="11" fill="#FBFBF6" transform="rotate(120 428 632)" /><ellipse cx="428" cy="632" rx="46" ry="11" fill="#FBFBF6" transform="rotate(150 428 632)" /><ellipse cx="428" cy="632" rx="46" ry="11" fill="#FBFBF6" transform="rotate(180 428 632)" /><ellipse cx="428" cy="632" rx="46" ry="11" fill="#FBFBF6" transform="rotate(210 428 632)" /><ellipse cx="428" cy="632" rx="46" ry="11" fill="#FBFBF6" transform="rotate(240 428 632)" /><ellipse cx="428" cy="632" rx="46" ry="11" fill="#FBFBF6" transform="rotate(270 428 632)" /><ellipse cx="428" cy="632" rx="46" ry="11" fill="#FBFBF6" transform="rotate(300 428 632)" /><ellipse cx="428" cy="632" rx="46" ry="11" fill="#FBFBF6" transform="rotate(330 428 632)" /><ellipse cx="428" cy="632" rx="18" ry="15" fill="#E6C63A" transform="rotate(0 428 632)" /><ellipse cx="230" cy="680" rx="40" ry="12" fill="#8DB05A" transform="rotate(20 230 680)" /><ellipse cx="440" cy="690" rx="35" ry="12" fill="#8DB05A" transform="rotate(-20 440 690)" /></g></svg>
<svg class="pic" style="top:750px" viewBox="0 0 1000 765"><g filter="url(#soft)"><path d="M250,250 C300,220 400,240 410,300 L410,520 L240,520 C200,440 200,330 250,250Z" fill="url(#g30)" /><path d="M215,330 C170,380 140,470 150,540 C170,590 220,600 240,560 C220,520 230,420 260,350Z" fill="url(#g31)" /><ellipse cx="195" cy="545" rx="50" ry="50" fill="#F0C09C" transform="rotate(0 195 545)" /><path d="M238,505 L410,500 L410,640 C340,650 270,640 250,610 C235,580 235,540 238,505Z" fill="url(#g32)" /><ellipse cx="312" cy="135" rx="97" ry="102" fill="url(#g33)" transform="rotate(0 312 135)" /><path d="M218,120 C220,50 300,25 360,45 C330,50 270,70 250,120 C240,150 230,160 222,165 Z" fill="#EBCB9E" /><ellipse cx="335" cy="150" rx="10" ry="9" fill="#5A4A44" transform="rotate(0 335 150)" /><ellipse cx="385" cy="150" rx="8" ry="9" fill="#5A4A44" transform="rotate(0 385 150)" /><ellipse cx="372" cy="215" rx="15" ry="10" fill="#C9574A" transform="rotate(0 372 215)" /><rect x="396" y="203" width="418" height="462" rx="14" fill="#B9BFC0" /><rect x="402" y="208" width="250" height="455" rx="8" fill="#1FA89A" /><path d="M402,520 C470,480 560,490 652,530 L652,660 L402,660Z" fill="#F28E1E" /><rect x="652" y="208" width="155" height="455" rx="0" fill="#F3EFE6" /><path d="M560,208 C640,260 660,400 640,520 L652,520 L652,208Z" fill="#E9F1EE" /><rect x="690" y="208" width="117" height="125" rx="0" fill="#F29422" /><ellipse cx="716" cy="325" rx="16" ry="16" fill="#F8E9C0" transform="rotate(0 716 325)" /><ellipse cx="730" cy="385" rx="32" ry="34" fill="#EDBE98" transform="rotate(0 730 385)" /><path d="M725,350 C700,350 695,380 700,390 C710,370 740,360 760,375 C755,355 740,350 725,350Z" fill="#8A5A3A" /><path d="M690,430 C720,415 760,420 775,440 L770,560 L700,560 Z" fill="#F7F4F0" /><rect x="705" y="560" width="25" height="80" rx="0" fill="#EDBE98" /><rect x="745" y="560" width="25" height="80" rx="0" fill="#EDBE98" /><ellipse cx="540" cy="340" rx="72" ry="72" fill="#F28C1E" transform="rotate(0 540 340)" /><text x="462" y="362" font-family="Liberation Sans, sans-serif" font-size="58" fill="#FFFFFF" font-weight="700" textLength="160" lengthAdjust="spacingAndGlyphs">PANTS</text><ellipse cx="605" cy="450" rx="38" ry="30" fill="#DCDC3E" transform="rotate(-30 605 450)" /><ellipse cx="460" cy="535" rx="30" ry="30" fill="#20A090" transform="rotate(0 460 535)" stroke="#fff" stroke-width="5"/><text x="444" y="558" font-family="Liberation Sans, sans-serif" font-size="60" fill="#FFFFFF" font-weight="700">4</text><rect x="505" y="520" width="110" height="45" rx="8" fill="#DDEFF0" /><rect x="512" y="527" width="45" height="30" rx="4" fill="#2A8ACB" /><rect x="563" y="527" width="45" height="30" rx="4" fill="#2A8ACB" /></g></svg>
<svg class="pic" style="top:890px" viewBox="0 0 1000 765"><g filter="url(#soft)"><polygon points="480,120 548,150 548,380 480,372" fill="#B9A0B0" /><rect x="275" y="108" width="210" height="265" rx="0" fill="url(#g34)" /><polygon points="330,160 470,140 480,300 400,330" fill="#F9E6EE" opacity="0.75"/><rect x="365" y="185" width="70" height="150" rx="0" fill="#8A8088" opacity="0.8"/><rect x="440" y="190" width="50" height="160" rx="0" fill="#70646E" opacity="0.8"/><rect x="505" y="250" width="283" height="367" rx="0" fill="url(#g35)" stroke="#D6D6D6" stroke-width="4"/><rect x="640" y="515" width="100" height="30" rx="0" fill="#B4B4B4" /><rect x="640" y="560" width="100" height="8" rx="0" fill="#C8C8C8" /><rect x="640" y="578" width="100" height="8" rx="0" fill="#C8C8C8" /><rect x="157" y="340" width="190" height="272" rx="26" fill="url(#g36)" /><rect x="170" y="355" width="60" height="240" rx="20" fill="#5560D0" opacity="0.55"/><rect x="165" y="490" width="175" height="26" rx="0" fill="#B9A4E8" opacity="0.7"/><ellipse cx="190" cy="560" rx="8" ry="8" fill="#CFC4F4" transform="rotate(0 190 560)" /><ellipse cx="230" cy="585" rx="8" ry="8" fill="#CFC4F4" transform="rotate(0 230 585)" /><ellipse cx="270" cy="565" rx="8" ry="8" fill="#CFC4F4" transform="rotate(0 270 565)" /><ellipse cx="300" cy="590" rx="8" ry="8" fill="#CFC4F4" transform="rotate(0 300 590)" /><ellipse cx="210" cy="600" rx="8" ry="8" fill="#CFC4F4" transform="rotate(0 210 600)" /><rect x="212" y="275" width="92" height="80" rx="14" fill="#1A1A1E" /><rect x="395" y="290" width="88" height="95" rx="10" fill="url(#g37)" /><rect x="320" y="372" width="247" height="270" rx="60" fill="url(#g38)" stroke="#DDDDDD" stroke-width="3"/><rect x="385" y="442" width="95" height="7" rx="0" fill="#BDBDBD" /></g></svg>
<svg class="pic" style="top:1030px" viewBox="0 0 1000 765"><g filter="url(#soft)"><ellipse cx="505" cy="505" rx="358" ry="188" fill="url(#g39)" transform="rotate(0 505 505)" /><ellipse cx="505" cy="495" rx="290" ry="140" fill="#FBFCFC" transform="rotate(0 505 495)" /><polygon points="165,128 520,55 528,262 182,352" fill="url(#g40)" /><polygon points="165,128 520,55 522,100 168,170" fill="#6A92E2" opacity="0.8"/><polygon points="165,128 260,250 182,352" fill="#2C4FAE" opacity="0.8"/><rect x="340" y="175" width="130" height="8" rx="0" fill="#8FB0EA" transform="rotate(-12 400 180)"/><polygon points="290,372 330,345 560,455 560,580 400,585 300,470" fill="#F1D878" /><polygon points="300,470 400,585 560,580 560,520 400,525 300,420" fill="#EDCC62" /><polygon points="315,342 560,255 752,322 500,432" fill="#FCF5CC" /><polygon points="315,342 500,432 505,525 330,430" fill="#F6E490" /><polygon points="500,432 752,322 752,400 560,520 505,525" fill="#F2D874" /><ellipse cx="490" cy="368" rx="52" ry="20" fill="#8FCB3E" transform="rotate(15 490 368)" /><ellipse cx="628" cy="552" rx="70" ry="62" fill="url(#g41)" transform="rotate(0 628 552)" /><path d="M600,540 C620,510 670,520 670,560 C665,590 625,595 615,570" fill="none" stroke="#E4C85A" stroke-width="8"/><ellipse cx="232" cy="548" rx="68" ry="30" fill="#5DB63E" transform="rotate(-12 232 548)" /><ellipse cx="215" cy="498" rx="50" ry="18" fill="#4BA332" transform="rotate(25 215 498)" /><ellipse cx="675" cy="470" rx="55" ry="30" fill="#5DB63E" transform="rotate(70 675 470)" /><ellipse cx="725" cy="565" rx="40" ry="26" fill="#4BA332" transform="rotate(60 725 565)" /><ellipse cx="700" cy="520" rx="30" ry="18" fill="#6CC44A" transform="rotate(20 700 520)" /></g></svg>
<svg class="pic" style="top:1170px" viewBox="0 0 1000 765"><g filter="url(#soft)"><path d="M440,150 C430,90 500,60 600,65 C700,60 760,100 765,170 L770,430 C700,480 520,480 440,440Z" fill="#E8E2D8" /><path d="M440,140 C500,85 700,85 765,150 L770,430 C700,480 520,480 440,440Z" fill="#C4873F" /><ellipse cx="643.0995254158076" cy="364.7897064560407" rx="23.132709917919755" ry="11.712251418885252" fill="#C8702E" transform="rotate(133.18174345318752 643.0995254158076 364.7897064560407)" /><ellipse cx="710.507917362027" cy="376.0663272537866" rx="15.486737184864609" ry="7.259266268495488" fill="#8E9A46" transform="rotate(28.23323801440799 710.507917362027 376.0663272537866)" /><ellipse cx="595.4114048124708" cy="201.369034764544" rx="19.612652029303028" ry="9.869705939640504" fill="#E2C080" transform="rotate(2.3605541260023966 595.4114048124708 201.369034764544)" /><ellipse cx="576.5268270420993" cy="180.08496904666697" rx="24.144427319766255" ry="8.947186557933845" fill="#DDA858" transform="rotate(137.14657696698947 576.5268270420993 180.08496904666697)" /><ellipse cx="493.01789970365996" cy="323.7593317538185" rx="13.773789255703775" ry="7.008874311012673" fill="#E2C080" transform="rotate(156.85285405037078 493.01789970365996 323.7593317538185)" /><ellipse cx="689.814047938579" cy="436.84194307177484" rx="14.321990193528746" ry="7.832422386456473" fill="#E2C080" transform="rotate(56.45724619229165 689.814047938579 436.84194307177484)" /><ellipse cx="617.1592753499513" cy="343.6840574926955" rx="14.8669132034731" ry="11.704880005439996" fill="#C4482A" transform="rotate(124.31554939924348 617.1592753499513 343.6840574926955)" /><ellipse cx="542.624558334699" cy="239.19267845838675" rx="14.323384799816438" ry="7.728509547703412" fill="#CC8236" transform="rotate(11.725148407621726 542.624558334699 239.19267845838675)" /><ellipse cx="703.394096396596" cy="313.42661530611235" rx="20.343705307625825" ry="10.538380762111277" fill="#8E9A46" transform="rotate(11.884041099193885 703.394096396596 313.42661530611235)" /><ellipse cx="703.7406031405919" cy="278.64591158791285" rx="16.421103481850217" ry="9.406091931184319" fill="#C8702E" transform="rotate(126.84044414536366 703.7406031405919 278.64591158791285)" /><ellipse cx="529.4163691422407" cy="429.87389562685513" rx="25.289086673387366" ry="8.78822032529417" fill="#C4482A" transform="rotate(72.77293461004014 529.4163691422407 429.87389562685513)" /><ellipse cx="563.5171875109768" cy="310.91121358876865" rx="12.127097415473399" ry="7.233635593494707" fill="#E2C080" transform="rotate(32.56550783118861 563.5171875109768 310.91121358876865)" /><ellipse cx="486.8963726928703" cy="201.20864090909254" rx="23.47290433338742" ry="9.311026802077212" fill="#CC8236" transform="rotate(92.24928218024056 486.8963726928703 201.20864090909254)" /><ellipse cx="690.4369345566886" cy="155.65744679139488" rx="22.47757279078528" ry="10.986133387956663" fill="#C8702E" transform="rotate(154.74497745376442 690.4369345566886 155.65744679139488)" /><ellipse cx="584.2227723687743" cy="442.85269193417844" rx="14.918767502683158" ry="9.564400270984603" fill="#B05426" transform="rotate(65.27258757692347 584.2227723687743 442.85269193417844)" /><ellipse cx="555.3874532540118" cy="424.98521441117094" rx="19.632016519375345" ry="8.562251846714535" fill="#B05426" transform="rotate(57.02399741940789 555.3874532540118 424.98521441117094)" /><ellipse cx="697.6198213118377" cy="326.8459036136154" rx="22.095890564087362" ry="8.546517908451214" fill="#C8702E" transform="rotate(87.08287931289749 697.6198213118377 326.8459036136154)" /><ellipse cx="475.0970519771928" cy="318.2142398958291" rx="24.930495423692705" ry="7.159132414957009" fill="#8E9A46" transform="rotate(133.30052902484564 475.0970519771928 318.2142398958291)" /><ellipse cx="706.1516086575742" cy="270.36948349191937" rx="17.90460194676225" ry="7.278536155039467" fill="#C8702E" transform="rotate(164.89248271955836 706.1516086575742 270.36948349191937)" /><ellipse cx="698.5159734860428" cy="230.2811468890433" rx="14.898838474065105" ry="11.906502430575506" fill="#B05426" transform="rotate(101.52857013764783 698.5159734860428 230.2811468890433)" /><ellipse cx="645.4237809621823" cy="380.0431514275178" rx="13.492828535761625" ry="9.172775953002185" fill="#C4482A" transform="rotate(26.86416201724641 645.4237809621823 380.0431514275178)" /><ellipse cx="541.3920071257111" cy="269.5411214549921" rx="25.990199272972554" ry="11.261263354468714" fill="#9A5A2A" transform="rotate(175.68136255439356 541.3920071257111 269.5411214549921)" /><ellipse cx="747.640716443429" cy="347.31688522351277" rx="16.447831531663198" ry="8.3701776523524" fill="#B05426" transform="rotate(84.61454862864385 747.640716443429 347.31688522351277)" /><ellipse cx="484.8937083547579" cy="391.27815146869375" rx="19.444525982718336" ry="7.896981158366984" fill="#8E9A46" transform="rotate(168.68600986807078 484.8937083547579 391.27815146869375)" /><ellipse cx="505.83729220653026" cy="282.3144677271123" rx="19.21250421515305" ry="9.740502650565908" fill="#DDA858" transform="rotate(90.5084091800356 505.83729220653026 282.3144677271123)" /><ellipse cx="693.6669996864873" cy="375.71637039915174" rx="21.72435449231252" ry="10.320092224863117" fill="#8E9A46" transform="rotate(136.7349725591081 693.6669996864873 375.71637039915174)" /><ellipse cx="623.387442517173" cy="340.54148981482666" rx="23.693254789707012" ry="8.324292226498851" fill="#CC8236" transform="rotate(176.57219144969383 623.387442517173 340.54148981482666)" /><ellipse cx="746.634482317565" cy="232.22421843110328" rx="14.501091496119287" ry="11.259109981789464" fill="#CC8236" transform="rotate(85.37469221993058 746.634482317565 232.22421843110328)" /><ellipse cx="551.030529277096" cy="210.31608583606678" rx="16.043571229528748" ry="9.501745620646957" fill="#8E9A46" transform="rotate(121.25486540475987 551.030529277096 210.31608583606678)" /><ellipse cx="557.8441974885869" cy="332.54081408710783" rx="22.329582937994694" ry="11.14094334127266" fill="#B05426" transform="rotate(63.00812725737676 557.8441974885869 332.54081408710783)" /><ellipse cx="719.67248826296" cy="347.151195767736" rx="25.66571063622717" ry="11.782582384882094" fill="#B05426" transform="rotate(93.26509748052416 719.67248826296 347.151195767736)" /><ellipse cx="511.5824912440202" cy="239.46954316896168" rx="23.953967114398964" ry="8.414290990361033" fill="#C4482A" transform="rotate(14.190611314353074 511.5824912440202 239.46954316896168)" /><ellipse cx="503.26629393698227" cy="377.5226373147531" rx="20.13183420323113" ry="10.327781145886746" fill="#CC8236" transform="rotate(75.7425655013315 503.26629393698227 377.5226373147531)" /><ellipse cx="673.3284871188195" cy="129.11526519468146" rx="14.240322949068807" ry="9.205342077615551" fill="#E2C080" transform="rotate(117.021071408195 673.3284871188195 129.11526519468146)" /><ellipse cx="685.2891180116441" cy="179.57593804736064" rx="22.058472667530655" ry="11.932341965719516" fill="#B05426" transform="rotate(176.35679200830808 685.2891180116441 179.57593804736064)" /><ellipse cx="466.7843333368082" cy="164.06387199888763" rx="16.44291178548133" ry="7.907736066082935" fill="#C8702E" transform="rotate(34.804818322492636 466.7843333368082 164.06387199888763)" /><ellipse cx="578.8018299210992" cy="235.862946104248" rx="21.275335956850014" ry="7.35988493227081" fill="#8E9A46" transform="rotate(36.785925647708424 578.8018299210992 235.862946104248)" /><ellipse cx="450.204790895144" cy="253.77399701025467" rx="15.899392992123708" ry="9.050211573630618" fill="#8E9A46" transform="rotate(20.713398933365646 450.204790895144 253.77399701025467)" /><ellipse cx="748.9549071429615" cy="301.4778673833322" rx="16.21935423707592" ry="8.476406661615552" fill="#CC8236" transform="rotate(92.27658570622798 748.9549071429615 301.4778673833322)" /><ellipse cx="747.073156155658" cy="390.1122599290514" rx="17.86742697454541" ry="11.064949250367288" fill="#8E9A46" transform="rotate(115.613377518277 747.073156155658 390.1122599290514)" /><ellipse cx="594.9164040688788" cy="171.73589823141262" rx="17.358449115559665" ry="9.385156525567643" fill="#B05426" transform="rotate(35.848329620357184 594.9164040688788 171.73589823141262)" /><ellipse cx="638.6690668624466" cy="235.86830713605372" rx="24.5085379873456" ry="7.004737391391911" fill="#B05426" transform="rotate(19.425301095005786 638.6690668624466 235.86830713605372)" /><ellipse cx="550.8863381678718" cy="409.2448999294861" rx="19.900122234686286" ry="9.146004454481742" fill="#9A5A2A" transform="rotate(175.80247730568388 550.8863381678718 409.2448999294861)" /><ellipse cx="540.363320325823" cy="440.91002712949006" rx="17.316927473056925" ry="11.805695483645966" fill="#CC8236" transform="rotate(164.47450808156228 540.363320325823 440.91002712949006)" /><ellipse cx="679.7181289948819" cy="219.26489229336988" rx="15.514955951399237" ry="7.098356579212567" fill="#CC8236" transform="rotate(170.13169167317278 679.7181289948819 219.26489229336988)" /><ellipse cx="602.4439624559791" cy="214.51145624582594" rx="18.677099796629317" ry="7.609430062027977" fill="#9A5A2A" transform="rotate(111.9035919975457 602.4439624559791 214.51145624582594)" /><ellipse cx="526.1050948564855" cy="133.1922469136348" rx="13.910163235480145" ry="8.96194425274444" fill="#CC8236" transform="rotate(86.45338681237128 526.1050948564855 133.1922469136348)" /><ellipse cx="525.4762374604379" cy="276.51174536369285" rx="12.514681156272012" ry="9.45059405519398" fill="#CC8236" transform="rotate(151.9045152355568 525.4762374604379 276.51174536369285)" /><ellipse cx="540.8883591190116" cy="320.65240500509356" rx="18.64483995180627" ry="10.224383140485049" fill="#DDA858" transform="rotate(108.69367032139571 540.8883591190116 320.65240500509356)" /><ellipse cx="455.0135571190982" cy="161.59067458829" rx="15.952864225722632" ry="10.540136491362812" fill="#C8702E" transform="rotate(110.44287348857513 455.0135571190982 161.59067458829)" /><ellipse cx="593.9443895848622" cy="239.14299633340002" rx="22.430240581757808" ry="9.954023485350595" fill="#CC8236" transform="rotate(6.557204429138488 593.9443895848622 239.14299633340002)" /><ellipse cx="621.5007475110907" cy="346.2918522392896" rx="13.50640890323496" ry="10.437103202402305" fill="#C4482A" transform="rotate(34.41227497623034 621.5007475110907 346.2918522392896)" /><ellipse cx="691.2986261422532" cy="261.1514059924661" rx="20.05898500715377" ry="10.540906084823154" fill="#9A5A2A" transform="rotate(113.80236220952568 691.2986261422532 261.1514059924661)" /><ellipse cx="716.1947939740996" cy="397.5961317658882" rx="18.660076122627554" ry="10.411641003634832" fill="#CC8236" transform="rotate(129.52969935062725 716.1947939740996 397.5961317658882)" /><ellipse cx="594.1762456097252" cy="370.2049198880636" rx="16.25110184928701" ry="7.0161322837554465" fill="#CC8236" transform="rotate(140.219590052274 594.1762456097252 370.2049198880636)" /><ellipse cx="651.0023207368406" cy="275.90839259716086" rx="16.353309243899425" ry="7.827246996701233" fill="#9A5A2A" transform="rotate(125.14189823595554 651.0023207368406 275.90839259716086)" /><ellipse cx="751.6057714263236" cy="297.5217724640977" rx="17.957850562050425" ry="9.707031138681733" fill="#E2C080" transform="rotate(8.739734085764553 751.6057714263236 297.5217724640977)" /><ellipse cx="532.8334987467084" cy="148.11474450884512" rx="12.880846226889041" ry="11.710830786286046" fill="#C4482A" transform="rotate(59.94928754916597 532.8334987467084 148.11474450884512)" /><ellipse cx="753.3926570512238" cy="449.45037770074043" rx="21.817474103075828" ry="7.2444646180933345" fill="#E2C080" transform="rotate(151.57127486187346 753.3926570512238 449.45037770074043)" /><ellipse cx="640.5122066302492" cy="392.0353054571215" rx="13.556182741926662" ry="11.474232611605" fill="#9A5A2A" transform="rotate(178.92955625540554 640.5122066302492 392.0353054571215)" /><ellipse cx="496.4163017776356" cy="321.5019399758011" rx="17.79510747811776" ry="7.805899466098396" fill="#C8702E" transform="rotate(112.03290833804745 496.4163017776356 321.5019399758011)" /><ellipse cx="622.2084280367684" cy="337.86986101519824" rx="22.437364958286693" ry="8.399352105616078" fill="#DDA858" transform="rotate(102.7985996272119 622.2084280367684 337.86986101519824)" /><ellipse cx="680.1246636624966" cy="409.89084918668516" rx="13.88066022202048" ry="9.15835251254729" fill="#9A5A2A" transform="rotate(56.62253158826946 680.1246636624966 409.89084918668516)" /><ellipse cx="601.7697262730815" cy="429.71754406788244" rx="17.23877487187928" ry="7.278756102108671" fill="#B05426" transform="rotate(125.51333019919964 601.7697262730815 429.71754406788244)" /><ellipse cx="626.2809424528274" cy="343.7225603083414" rx="16.0633117612147" ry="11.709854668188498" fill="#E2C080" transform="rotate(98.97905492602294 626.2809424528274 343.7225603083414)" /><ellipse cx="531.606484126953" cy="302.0528486949105" rx="15.558663604084483" ry="10.75289307100483" fill="#B05426" transform="rotate(93.0592269861589 531.606484126953 302.0528486949105)" /><ellipse cx="700.4889361759297" cy="404.9558685161223" rx="18.346735166866633" ry="8.944518095974638" fill="#C8702E" transform="rotate(23.61290580327314 700.4889361759297 404.9558685161223)" /><ellipse cx="653.0542602084377" cy="148.1303074893685" rx="21.351345021301857" ry="7.455891373134587" fill="#9A5A2A" transform="rotate(22.46249266836096 653.0542602084377 148.1303074893685)" /><ellipse cx="523.9613794599038" cy="409.3857941975424" rx="18.726551022277828" ry="8.616431180669883" fill="#C8702E" transform="rotate(143.3634449208264 523.9613794599038 409.3857941975424)" /><ellipse cx="618.0512618627553" cy="246.92441685279854" rx="23.875404910081734" ry="11.723097531200999" fill="#E2C080" transform="rotate(77.28025900274707 618.0512618627553 246.92441685279854)" /><ellipse cx="682.3783378748901" cy="147.64645271740972" rx="24.759715194336163" ry="9.457228557042635" fill="#C4482A" transform="rotate(38.07016048697933 682.3783378748901 147.64645271740972)" /><ellipse cx="559.8324613951395" cy="197.55621854688746" rx="16.665711127426924" ry="10.068786848534835" fill="#C4482A" transform="rotate(62.76091324752173 559.8324613951395 197.55621854688746)" /><ellipse cx="567.2230546347191" cy="358.4984321464834" rx="17.01637259923261" ry="8.479563072491555" fill="#8E9A46" transform="rotate(113.64134220787145 567.2230546347191 358.4984321464834)" /><ellipse cx="610.4222764169326" cy="315.5668473073355" rx="20.025618352058025" ry="10.700800135006597" fill="#DDA858" transform="rotate(71.19178184412912 610.4222764169326 315.5668473073355)" /><ellipse cx="461.5016844144563" cy="181.49277476068198" rx="14.738377098384078" ry="9.450145739661806" fill="#8E9A46" transform="rotate(168.68119125499257 461.5016844144563 181.49277476068198)" /><ellipse cx="450.13628596340254" cy="275.1615659831492" rx="24.456876390311727" ry="10.097326901618905" fill="#9A5A2A" transform="rotate(77.15607090433333 450.13628596340254 275.1615659831492)" /><ellipse cx="593.1883730062993" cy="183.22863303901383" rx="21.14706455339919" ry="7.355952284285205" fill="#9A5A2A" transform="rotate(156.4320950911816 593.1883730062993 183.22863303901383)" /><ellipse cx="497.1553147669103" cy="203.84214346392565" rx="15.884043212666828" ry="7.807687370120282" fill="#E2C080" transform="rotate(51.66953355787309 497.1553147669103 203.84214346392565)" /><ellipse cx="460.2774488138492" cy="415.7982132627928" rx="16.82017853068767" ry="10.759991354084313" fill="#C8702E" transform="rotate(56.891680872660636 460.2774488138492 415.7982132627928)" /><ellipse cx="663.1914172078682" cy="342.3585346393081" rx="18.604244410121225" ry="11.727021871357017" fill="#8E9A46" transform="rotate(21.224392066620364 663.1914172078682 342.3585346393081)" /><ellipse cx="540.241207485663" cy="342.57358602570866" rx="22.21017204158287" ry="7.816143044588421" fill="#C8702E" transform="rotate(36.18403858442048 540.241207485663 342.57358602570866)" /><ellipse cx="628.1632244694715" cy="336.63485210990234" rx="20.646140959970584" ry="11.55836515775301" fill="#CC8236" transform="rotate(127.20823560331434 628.1632244694715 336.63485210990234)" /><ellipse cx="507.18762669780443" cy="239.28181308088642" rx="12.936301337576417" ry="11.968100216907576" fill="#E2C080" transform="rotate(84.24683890792411 507.18762669780443 239.28181308088642)" /><ellipse cx="504.4500997541679" cy="188.89374316006143" rx="12.614895232336451" ry="10.043404014060197" fill="#CC8236" transform="rotate(130.75600635690765 504.4500997541679 188.89374316006143)" /><ellipse cx="451.9445321946847" cy="140.08606329188635" rx="22.90968641294972" ry="9.050844027465486" fill="#8E9A46" transform="rotate(8.090698465619504 451.9445321946847 140.08606329188635)" /><ellipse cx="741.2464473328184" cy="356.45688767360195" rx="15.317931924634333" ry="11.015968124984212" fill="#9A5A2A" transform="rotate(16.55039897883324 741.2464473328184 356.45688767360195)" /><ellipse cx="466.66606107104684" cy="200.34299390465827" rx="12.706408388643357" ry="8.986594564525351" fill="#CC8236" transform="rotate(10.82497454153144 466.66606107104684 200.34299390465827)" /><ellipse cx="708.3625501864874" cy="267.13938885154676" rx="20.966909697046702" ry="11.375421816021372" fill="#E2C080" transform="rotate(171.02442603478167 708.3625501864874 267.13938885154676)" /><ellipse cx="505.6097970580777" cy="287.84762867825293" rx="17.63300528103727" ry="9.656545424227536" fill="#8E9A46" transform="rotate(15.184754929305342 505.6097970580777 287.84762867825293)" /><ellipse cx="695.1477154603149" cy="148.65033051996852" rx="25.7923160411286" ry="7.809681251581256" fill="#E2C080" transform="rotate(13.566810147598611 695.1477154603149 148.65033051996852)" /><path d="M440,150 C430,90 500,60 600,65 C700,60 760,100 765,170 C700,95 520,95 440,150Z" fill="#F2EEE8" opacity="0.8"/><path d="M160,400 C200,300 300,250 350,265 C420,280 450,340 470,400Z" fill="#A8402A" /><ellipse cx="350.6112897739797" cy="335.7393288765684" rx="14" ry="9" fill="#C9A24A" transform="rotate(64.37050512118044 350.6112897739797 335.7393288765684)" /><ellipse cx="336.426840264736" cy="328.3122954522548" rx="14" ry="9" fill="#B8442A" transform="rotate(112.51786905447089 336.426840264736 328.3122954522548)" /><ellipse cx="303.9961179066439" cy="380.03780838074874" rx="14" ry="9" fill="#B8442A" transform="rotate(40.315237043825555 303.9961179066439 380.03780838074874)" /><ellipse cx="291.68835638398036" cy="300.2568119386476" rx="14" ry="9" fill="#C9A24A" transform="rotate(96.61670129565367 291.68835638398036 300.2568119386476)" /><ellipse cx="298.592279340766" cy="351.3530221329955" rx="14" ry="9" fill="#B8442A" transform="rotate(44.16955895461043 298.592279340766 351.3530221329955)" /><ellipse cx="315.5549727056893" cy="313.60930215957444" rx="14" ry="9" fill="#D0603A" transform="rotate(126.64841276387652 315.5549727056893 313.60930215957444)" /><ellipse cx="418.90481426601934" cy="386.8359366531004" rx="14" ry="9" fill="#D0603A" transform="rotate(12.937541870057846 418.90481426601934 386.8359366531004)" /><ellipse cx="285.66406607154056" cy="373.4651305820769" rx="14" ry="9" fill="#D0603A" transform="rotate(0.013555745007058917 285.66406607154056 373.4651305820769)" /><ellipse cx="358.33600058544084" cy="372.3676516125163" rx="14" ry="9" fill="#C9A24A" transform="rotate(103.45120716912608 358.33600058544084 372.3676516125163)" /><ellipse cx="223.01995155552163" cy="364.071225526763" rx="14" ry="9" fill="#B8442A" transform="rotate(140.6412487615468 223.01995155552163 364.071225526763)" /><ellipse cx="377.92534878482826" cy="365.63532377908723" rx="14" ry="9" fill="#C9A24A" transform="rotate(48.18507506830018 377.92534878482826 365.63532377908723)" /><ellipse cx="333.9116656744093" cy="321.94698186652226" rx="14" ry="9" fill="#8A3420" transform="rotate(55.16003631416928 333.9116656744093 321.94698186652226)" /><ellipse cx="254.58688368570438" cy="362.72810755051364" rx="14" ry="9" fill="#B8442A" transform="rotate(51.3938150266292 254.58688368570438 362.72810755051364)" /><ellipse cx="328.73329525741747" cy="369.98035568059146" rx="14" ry="9" fill="#B8442A" transform="rotate(5.0207171212509945 328.73329525741747 369.98035568059146)" /><ellipse cx="279.6443213189251" cy="383.8767872727612" rx="14" ry="9" fill="#7A2A1C" transform="rotate(170.85955464290552 279.6443213189251 383.8767872727612)" /><ellipse cx="279.9345124386114" cy="303.77894272810397" rx="14" ry="9" fill="#8A3420" transform="rotate(111.45775369440128 279.9345124386114 303.77894272810397)" /><ellipse cx="325.532756675555" cy="304.68747356917936" rx="14" ry="9" fill="#C9A24A" transform="rotate(127.69817967657704 325.532756675555 304.68747356917936)" /><ellipse cx="387.64116092557055" cy="334.9743262410105" rx="14" ry="9" fill="#D0603A" transform="rotate(77.3023073470332 387.64116092557055 334.9743262410105)" /><ellipse cx="269.02483420927047" cy="390.2240310330214" rx="14" ry="9" fill="#C9A24A" transform="rotate(82.9794823178711 269.02483420927047 390.2240310330214)" /><ellipse cx="310.42693109781504" cy="341.5136955942346" rx="14" ry="9" fill="#8A3420" transform="rotate(0.2906657654147393 310.42693109781504 341.5136955942346)" /><ellipse cx="198.86249128731103" cy="397.47114643547417" rx="14" ry="9" fill="#7A2A1C" transform="rotate(5.91671156596324 198.86249128731103 397.47114643547417)" /><ellipse cx="247.49357124960784" cy="366.08153035048963" rx="14" ry="9" fill="#C9A24A" transform="rotate(63.77162002540537 247.49357124960784 366.08153035048963)" /><ellipse cx="238.3064505856859" cy="349.67974110931004" rx="14" ry="9" fill="#8A3420" transform="rotate(64.2580632688253 238.3064505856859 349.67974110931004)" /><ellipse cx="282.1622053401119" cy="378.01670635899535" rx="14" ry="9" fill="#B8442A" transform="rotate(146.56165522959608 282.1622053401119 378.01670635899535)" /><ellipse cx="348.8108634278907" cy="331.0985983174663" rx="14" ry="9" fill="#8A3420" transform="rotate(25.74974719963005 348.8108634278907 331.0985983174663)" /><ellipse cx="314.8799470895292" cy="289.3405610008796" rx="14" ry="9" fill="#B8442A" transform="rotate(30.520089801091046 314.8799470895292 289.3405610008796)" /><ellipse cx="429.0316537232623" cy="376.5943035979511" rx="14" ry="9" fill="#C9A24A" transform="rotate(135.90926660843854 429.0316537232623 376.5943035979511)" /><ellipse cx="365.96943985364373" cy="384.25872900622346" rx="14" ry="9" fill="#8A3420" transform="rotate(112.15860855876663 365.96943985364373 384.25872900622346)" /><ellipse cx="320.6120920957104" cy="352.4678272486361" rx="14" ry="9" fill="#C9A24A" transform="rotate(33.25312187066105 320.6120920957104 352.4678272486361)" /><ellipse cx="346.71391388550774" cy="344.0630149023699" rx="14" ry="9" fill="#7A2A1C" transform="rotate(90.21346558405799 346.71391388550774 344.0630149023699)" /><ellipse cx="371.3869458288831" cy="330.89703739971833" rx="14" ry="9" fill="#7A2A1C" transform="rotate(176.82972924240383 371.3869458288831 330.89703739971833)" /><ellipse cx="429.8304200001973" cy="364.672734805259" rx="14" ry="9" fill="#7A2A1C" transform="rotate(120.63164242359773 429.8304200001973 364.672734805259)" /><rect x="385" y="360" width="140" height="70" rx="0" fill="#28469C" /><ellipse cx="735" cy="535" rx="120" ry="78" fill="url(#g42)" transform="rotate(0 735 535)" /><ellipse cx="735" cy="585" rx="110" ry="28" fill="#2E3034" transform="rotate(0 735 585)" /><ellipse cx="720" cy="500" rx="112" ry="50" fill="#C8CCD0" transform="rotate(0 720 500)" /><ellipse cx="712" cy="470" rx="100" ry="62" fill="#D8924A" transform="rotate(0 712 470)" /><ellipse cx="677.2552203225217" cy="422.73381627147563" rx="15" ry="10" fill="#B8682A" transform="rotate(139.27266556066328 677.2552203225217 422.73381627147563)" /><ellipse cx="680.6207633005317" cy="512.9189689565152" rx="15" ry="10" fill="#C87A34" transform="rotate(49.427830779970684 680.6207633005317 512.9189689565152)" /><ellipse cx="641.8854479956303" cy="495.33934793496957" rx="15" ry="10" fill="#EEC07A" transform="rotate(120.58938542851676 641.8854479956303 495.33934793496957)" /><ellipse cx="778.0301294697921" cy="488.7674818941816" rx="15" ry="10" fill="#C87A34" transform="rotate(150.8858293875592 778.0301294697921 488.7674818941816)" /><ellipse cx="709.7093905899967" cy="429.19387258300986" rx="15" ry="10" fill="#EEC07A" transform="rotate(21.7919199394838 709.7093905899967 429.19387258300986)" /><ellipse cx="790.8196880268855" cy="474.39582424132595" rx="15" ry="10" fill="#E2A45A" transform="rotate(70.81375252032338 790.8196880268855 474.39582424132595)" /><ellipse cx="740.7407854078527" cy="457.7979764179389" rx="15" ry="10" fill="#C87A34" transform="rotate(135.14424337116495 740.7407854078527 457.7979764179389)" /><ellipse cx="780.1788468418157" cy="481.3529811213977" rx="15" ry="10" fill="#E2A45A" transform="rotate(69.59956793754563 780.1788468418157 481.3529811213977)" /><ellipse cx="769.1148170355694" cy="508.9282700072391" rx="15" ry="10" fill="#EEC07A" transform="rotate(123.89956629832876 769.1148170355694 508.9282700072391)" /><ellipse cx="671.0872172662382" cy="430.0061231946262" rx="15" ry="10" fill="#EEC07A" transform="rotate(52.894273959132754 671.0872172662382 430.0061231946262)" /><ellipse cx="761.5335999999843" cy="427.7937266955233" rx="15" ry="10" fill="#E2A45A" transform="rotate(171.08785249394126 761.5335999999843 427.7937266955233)" /><ellipse cx="734.4132356580426" cy="496.648778606532" rx="15" ry="10" fill="#E2A45A" transform="rotate(40.436772093602485 734.4132356580426 496.648778606532)" /><ellipse cx="724.0368823958358" cy="482.6468821095451" rx="15" ry="10" fill="#B8682A" transform="rotate(115.18755851794224 724.0368823958358 482.6468821095451)" /><ellipse cx="698.7800807362484" cy="462.53927207234136" rx="15" ry="10" fill="#C87A34" transform="rotate(95.17854845017294 698.7800807362484 462.53927207234136)" /><ellipse cx="679.8833616749588" cy="448.0748658511226" rx="15" ry="10" fill="#EEC07A" transform="rotate(108.96631285618272 679.8833616749588 448.0748658511226)" /><ellipse cx="660.8936362311207" cy="423.0478851118464" rx="15" ry="10" fill="#C87A34" transform="rotate(20.80733875347713 660.8936362311207 423.0478851118464)" /><ellipse cx="701.5817978709691" cy="452.60563581773727" rx="15" ry="10" fill="#EEC07A" transform="rotate(18.416408720199367 701.5817978709691 452.60563581773727)" /><ellipse cx="750.2723861304992" cy="426.13921206616027" rx="15" ry="10" fill="#E2A45A" transform="rotate(87.24544796934288 750.2723861304992 426.13921206616027)" /><ellipse cx="682.5436386558756" cy="505.033761313549" rx="15" ry="10" fill="#C87A34" transform="rotate(116.13263956564154 682.5436386558756 505.033761313549)" /><ellipse cx="777.4186729637695" cy="481.5286691790218" rx="15" ry="10" fill="#E2A45A" transform="rotate(143.6077484921198 777.4186729637695 481.5286691790218)" /><ellipse cx="630.2617562333645" cy="487.2355176185415" rx="15" ry="10" fill="#EEC07A" transform="rotate(20.088206058065396 630.2617562333645 487.2355176185415)" /><ellipse cx="655.0728165780705" cy="481.5732139054062" rx="15" ry="10" fill="#B8682A" transform="rotate(18.882184948737162 655.0728165780705 481.5732139054062)" /><ellipse cx="751.4756774772326" cy="501.63679448484504" rx="15" ry="10" fill="#E2A45A" transform="rotate(144.66857249249747 751.4756774772326 501.63679448484504)" /><ellipse cx="690.2805779648986" cy="501.4199693981241" rx="15" ry="10" fill="#EEC07A" transform="rotate(35.18893969919736 690.2805779648986 501.4199693981241)" /><ellipse cx="691.7822190264161" cy="465.8673841438409" rx="15" ry="10" fill="#E2A45A" transform="rotate(122.49005241555423 691.7822190264161 465.8673841438409)" /><ellipse cx="670.5660699422335" cy="514.1421967323618" rx="15" ry="10" fill="#E2A45A" transform="rotate(83.87976279506644 670.5660699422335 514.1421967323618)" /><ellipse cx="649.3955373895081" cy="479.70855724967885" rx="15" ry="10" fill="#E2A45A" transform="rotate(67.39401537101008 649.3955373895081 479.70855724967885)" /><ellipse cx="711.7591819381413" cy="516.2697821427876" rx="15" ry="10" fill="#E2A45A" transform="rotate(170.10520989922205 711.7591819381413 516.2697821427876)" /><ellipse cx="710.9633567956522" cy="513.7613559672633" rx="15" ry="10" fill="#E2A45A" transform="rotate(128.22309623112537 710.9633567956522 513.7613559672633)" /><ellipse cx="649.2798139421286" cy="467.9013651602407" rx="15" ry="10" fill="#C87A34" transform="rotate(63.7450760242965 649.2798139421286 467.9013651602407)" /><ellipse cx="781.5347423158589" cy="458.20934753240635" rx="15" ry="10" fill="#B8682A" transform="rotate(52.30663361423978 781.5347423158589 458.20934753240635)" /><ellipse cx="736.0099496691139" cy="496.6127070702613" rx="15" ry="10" fill="#E2A45A" transform="rotate(15.948903736639906 736.0099496691139 496.6127070702613)" /><ellipse cx="678.8350001524157" cy="453.6946509354356" rx="15" ry="10" fill="#B8682A" transform="rotate(152.642447139204 678.8350001524157 453.6946509354356)" /><ellipse cx="638.315131748887" cy="462.0759789541054" rx="15" ry="10" fill="#E2A45A" transform="rotate(42.81074381463768 638.315131748887 462.0759789541054)" /><ellipse cx="654.0626433470967" cy="516.7469134152084" rx="15" ry="10" fill="#B8682A" transform="rotate(99.6025288549086 654.0626433470967 516.7469134152084)" /><ellipse cx="792.465839085619" cy="474.13597065496293" rx="15" ry="10" fill="#C87A34" transform="rotate(69.5315974502803 792.465839085619 474.13597065496293)" /><ellipse cx="645.150294673868" cy="455.5769456394139" rx="15" ry="10" fill="#E2A45A" transform="rotate(145.9404074777103 645.150294673868 455.5769456394139)" /><ellipse cx="764.9666147036497" cy="434.0810961731104" rx="15" ry="10" fill="#E2A45A" transform="rotate(145.91238098556857 764.9666147036497 434.0810961731104)" /><ellipse cx="671.3908628209267" cy="465.82309123632956" rx="15" ry="10" fill="#E2A45A" transform="rotate(68.90721139510815 671.3908628209267 465.82309123632956)" /><ellipse cx="638.7659055016918" cy="441.858655805765" rx="15" ry="10" fill="#B8682A" transform="rotate(175.3744471417801 638.7659055016918 441.858655805765)" /><rect x="115" y="365" width="160" height="275" rx="8" fill="url(#g43)" /><rect x="135" y="385" width="120" height="55" rx="6" fill="#D8342A" /><rect x="130" y="455" width="130" height="16" rx="0" fill="#B8DC8A" /><rect x="140" y="478" width="15" height="150" rx="6" fill="#EAD9A4" /><rect x="164" y="478" width="15" height="150" rx="6" fill="#EAD9A4" /><rect x="188" y="478" width="15" height="150" rx="6" fill="#EAD9A4" /><rect x="212" y="478" width="15" height="150" rx="6" fill="#EAD9A4" /><rect x="236" y="478" width="15" height="150" rx="6" fill="#EAD9A4" /><rect x="257" y="380" width="165" height="282" rx="6" fill="url(#g44)" /><ellipse cx="340" cy="430" rx="42" ry="38" fill="#3E8A4A" transform="rotate(0 340 430)" /><rect x="275" y="480" width="130" height="95" rx="0" fill="#8A6A5A" /><ellipse cx="330" cy="525" rx="40" ry="32" fill="#E8E0D8" transform="rotate(0 330 525)" /><ellipse cx="385" cy="540" rx="22" ry="22" fill="#2A2A2E" transform="rotate(0 385 540)" /><rect x="270" y="580" width="110" height="30" rx="0" fill="#3E9A4A" /><rect x="442" y="415" width="170" height="240" rx="0" fill="url(#g45)" /><ellipse cx="527" cy="655" rx="85" ry="18" fill="#5A6A80" transform="rotate(0 527 655)" /><rect x="442" y="415" width="170" height="60" rx="0" fill="url(#g46)" /><ellipse cx="527" cy="415" rx="85" ry="24" fill="#C4C8CC" transform="rotate(0 527 415)" stroke="#9A9EA4" stroke-width="6"/><path d="M480,640 C480,560 510,520 535,520 C570,520 590,570 585,640Z" fill="#8A7A5A" /><ellipse cx="535" cy="560" rx="30" ry="28" fill="#A8946A" transform="rotate(0 535 560)" /></g></svg>
<svg style="position:absolute;left:0;top:0" width="1000" height="1470"><rect x="134.75" y="234.80" width="23.25" height="6.00" fill="#0b0b0b"/><rect x="796.00" y="253.00" width="17.90" height="7.50" fill="#0b0b0b"/><rect x="134.75" y="374.60" width="23.25" height="6.00" fill="#0b0b0b"/><rect x="800.00" y="392.80" width="17.10" height="7.50" fill="#0b0b0b"/><rect x="134.75" y="514.40" width="23.25" height="6.00" fill="#0b0b0b"/><rect x="800.00" y="532.60" width="17.10" height="7.50" fill="#0b0b0b"/><rect x="126.00" y="653.50" width="23.40" height="6.00" fill="#0b0b0b"/><polygon points="157.80,642.28 165.90,637.80 174.30,637.80 174.30,669.80 166.30,669.80 166.30,646.18 158.80,648.36" fill="#0b0b0b"/><rect x="796.80" y="672.40" width="17.10" height="7.50" fill="#0b0b0b"/><rect x="126.00" y="793.30" width="23.40" height="6.00" fill="#0b0b0b"/><polygon points="157.80,782.08 165.90,777.60 174.30,777.60 174.30,809.60 166.30,809.60 166.30,785.98 158.80,788.16" fill="#0b0b0b"/><rect x="794.70" y="812.20" width="17.30" height="7.50" fill="#0b0b0b"/><rect x="126.00" y="933.10" width="23.40" height="6.00" fill="#0b0b0b"/><polygon points="157.80,921.88 165.90,917.40 174.30,917.40 174.30,949.40 166.30,949.40 166.30,925.78 158.80,927.96" fill="#0b0b0b"/><rect x="794.70" y="952.00" width="17.30" height="7.50" fill="#0b0b0b"/><polygon points="131.20,1061.68 137.60,1057.20 145.40,1057.20 145.40,1089.20 138.00,1089.20 138.00,1065.58 132.20,1067.76" fill="#0b0b0b"/><polygon points="148.40,1061.68 154.40,1057.20 162.20,1057.20 162.20,1089.20 154.80,1089.20 154.80,1065.58 149.40,1067.76" fill="#0b0b0b"/><rect x="800.00" y="1091.80" width="17.10" height="7.50" fill="#0b0b0b"/><polygon points="126.80,1201.48 133.20,1197.00 141.00,1197.00 141.00,1229.00 133.60,1229.00 133.60,1205.38 127.80,1207.56" fill="#0b0b0b"/><rect x="800.00" y="1231.60" width="17.10" height="7.50" fill="#0b0b0b"/></svg><span class="t" style="left:99.45px;top:212.37px;font-size:45.51px;font-weight:700;color:#0b0b0b;transform:scaleX(1.0887);transform-origin:0 0;-webkit-text-stroke:0px #0b0b0b">7</span><span class="t" style="left:166.86px;top:211.96px;font-size:45.63px;font-weight:700;color:#0b0b0b;transform:scaleX(1.1504);transform-origin:0 0;-webkit-text-stroke:0px #0b0b0b">8</span><span class="t" style="left:817.58px;top:226.00px;font-size:54.40px;font-weight:700;color:#0b0b0b;transform:scaleX(0.9697);transform-origin:0 0;-webkit-text-stroke:0px #0b0b0b">3</span><span class="t" style="left:845.78px;top:226.00px;font-size:54.40px;font-weight:700;color:#0b0b0b;transform:scaleX(1.3055);transform-origin:0 0;-webkit-text-stroke:0px #0b0b0b">0</span><span class="t" style="left:883.83px;top:231.38px;font-size:47.58px;font-weight:700;color:#0b0b0b;transform:scaleX(0.8951);transform-origin:0 0;-webkit-text-stroke:1.1px #0b0b0b">%</span><span class="t" style="left:99.45px;top:352.17px;font-size:45.51px;font-weight:700;color:#0b0b0b;transform:scaleX(1.0887);transform-origin:0 0;-webkit-text-stroke:0px #0b0b0b">7</span><span class="t" style="left:166.86px;top:351.76px;font-size:45.63px;font-weight:700;color:#0b0b0b;transform:scaleX(1.1504);transform-origin:0 0;-webkit-text-stroke:0px #0b0b0b">8</span><span class="t" style="left:819.53px;top:365.73px;font-size:54.90px;font-weight:700;color:#0b0b0b;transform:scaleX(1.0310);transform-origin:0 0;-webkit-text-stroke:0px #0b0b0b">2</span><span class="t" style="left:849.57px;top:365.80px;font-size:54.40px;font-weight:700;color:#0b0b0b;transform:scaleX(0.9804);transform-origin:0 0;-webkit-text-stroke:0px #0b0b0b">5</span><span class="t" style="left:880.93px;top:371.18px;font-size:47.58px;font-weight:700;color:#0b0b0b;transform:scaleX(0.8999);transform-origin:0 0;-webkit-text-stroke:1.1px #0b0b0b">%</span><span class="t" style="left:99.45px;top:491.97px;font-size:45.51px;font-weight:700;color:#0b0b0b;transform:scaleX(1.0887);transform-origin:0 0;-webkit-text-stroke:0px #0b0b0b">7</span><span class="t" style="left:166.86px;top:491.56px;font-size:45.63px;font-weight:700;color:#0b0b0b;transform:scaleX(1.1504);transform-origin:0 0;-webkit-text-stroke:0px #0b0b0b">8</span><span class="t" style="left:819.53px;top:505.53px;font-size:54.90px;font-weight:700;color:#0b0b0b;transform:scaleX(1.0310);transform-origin:0 0;-webkit-text-stroke:0px #0b0b0b">2</span><span class="t" style="left:849.57px;top:505.60px;font-size:54.40px;font-weight:700;color:#0b0b0b;transform:scaleX(0.9804);transform-origin:0 0;-webkit-text-stroke:0px #0b0b0b">5</span><span class="t" style="left:880.93px;top:510.98px;font-size:47.58px;font-weight:700;color:#0b0b0b;transform:scaleX(0.8999);transform-origin:0 0;-webkit-text-stroke:1.1px #0b0b0b">%</span><span class="t" style="left:89.40px;top:631.36px;font-size:45.63px;font-weight:700;color:#0b0b0b;transform:scaleX(1.0518);transform-origin:0 0;-webkit-text-stroke:0px #0b0b0b">9</span><span class="t" style="left:178.22px;top:631.36px;font-size:45.63px;font-weight:700;color:#0b0b0b;transform:scaleX(1.1762);transform-origin:0 0;-webkit-text-stroke:0px #0b0b0b">0</span><span class="t" style="left:816.36px;top:645.33px;font-size:54.90px;font-weight:700;color:#0b0b0b;transform:scaleX(1.0128);transform-origin:0 0;-webkit-text-stroke:0px #0b0b0b">2</span><span class="t" style="left:845.78px;top:645.40px;font-size:54.40px;font-weight:700;color:#0b0b0b;transform:scaleX(1.3055);transform-origin:0 0;-webkit-text-stroke:0px #0b0b0b">0</span><span class="t" style="left:884.65px;top:650.78px;font-size:47.58px;font-weight:700;color:#0b0b0b;transform:scaleX(0.8755);transform-origin:0 0;-webkit-text-stroke:1.1px #0b0b0b">%</span><span class="t" style="left:89.40px;top:771.16px;font-size:45.63px;font-weight:700;color:#0b0b0b;transform:scaleX(1.0518);transform-origin:0 0;-webkit-text-stroke:0px #0b0b0b">9</span><span class="t" style="left:178.22px;top:771.16px;font-size:45.63px;font-weight:700;color:#0b0b0b;transform:scaleX(1.1762);transform-origin:0 0;-webkit-text-stroke:0px #0b0b0b">0</span><span class="t" style="left:815.50px;top:785.13px;font-size:54.90px;font-weight:700;color:#0b0b0b;transform:scaleX(1.0881);transform-origin:0 0;-webkit-text-stroke:0px #0b0b0b">4</span><span class="t" style="left:848.18px;top:785.20px;font-size:54.40px;font-weight:700;color:#0b0b0b;transform:scaleX(1.3055);transform-origin:0 0;-webkit-text-stroke:0px #0b0b0b">0</span><span class="t" style="left:886.74px;top:790.58px;font-size:47.58px;font-weight:700;color:#0b0b0b;transform:scaleX(0.8828);transform-origin:0 0;-webkit-text-stroke:1.1px #0b0b0b">%</span><span class="t" style="left:89.40px;top:910.96px;font-size:45.63px;font-weight:700;color:#0b0b0b;transform:scaleX(1.0518);transform-origin:0 0;-webkit-text-stroke:0px #0b0b0b">9</span><span class="t" style="left:178.22px;top:910.96px;font-size:45.63px;font-weight:700;color:#0b0b0b;transform:scaleX(1.1762);transform-origin:0 0;-webkit-text-stroke:0px #0b0b0b">0</span><span class="t" style="left:815.50px;top:924.93px;font-size:54.90px;font-weight:700;color:#0b0b0b;transform:scaleX(1.0881);transform-origin:0 0;-webkit-text-stroke:0px #0b0b0b">4</span><span class="t" style="left:848.18px;top:925.00px;font-size:54.40px;font-weight:700;color:#0b0b0b;transform:scaleX(1.3055);transform-origin:0 0;-webkit-text-stroke:0px #0b0b0b">0</span><span class="t" style="left:886.74px;top:930.38px;font-size:47.58px;font-weight:700;color:#0b0b0b;transform:scaleX(0.8828);transform-origin:0 0;-webkit-text-stroke:1.1px #0b0b0b">%</span><span class="t" style="left:819.53px;top:1064.73px;font-size:54.90px;font-weight:700;color:#0b0b0b;transform:scaleX(1.0310);transform-origin:0 0;-webkit-text-stroke:0px #0b0b0b">2</span><span class="t" style="left:849.57px;top:1064.80px;font-size:54.40px;font-weight:700;color:#0b0b0b;transform:scaleX(0.9804);transform-origin:0 0;-webkit-text-stroke:0px #0b0b0b">5</span><span class="t" style="left:880.93px;top:1070.18px;font-size:47.58px;font-weight:700;color:#0b0b0b;transform:scaleX(0.8999);transform-origin:0 0;-webkit-text-stroke:1.1px #0b0b0b">%</span><span class="t" style="left:144.20px;top:1190.49px;font-size:46.08px;font-weight:700;color:#0b0b0b;transform:scaleX(0.9722);transform-origin:0 0;-webkit-text-stroke:0px #0b0b0b">2</span><span class="t" style="left:819.53px;top:1204.53px;font-size:54.90px;font-weight:700;color:#0b0b0b;transform:scaleX(1.0310);transform-origin:0 0;-webkit-text-stroke:0px #0b0b0b">2</span><span class="t" style="left:849.57px;top:1204.60px;font-size:54.40px;font-weight:700;color:#0b0b0b;transform:scaleX(0.9804);transform-origin:0 0;-webkit-text-stroke:0px #0b0b0b">5</span><span class="t" style="left:880.93px;top:1209.98px;font-size:47.58px;font-weight:700;color:#0b0b0b;transform:scaleX(0.8999);transform-origin:0 0;-webkit-text-stroke:1.1px #0b0b0b">%</span>
<span class="t" style="left:35.50px;top:14.97px;font-size:78px;font-weight:700;color:#FED52A;transform:scaleX(1.0512);transform-origin:0 0"><span style="font-size:82px;line-height:0">К</span>алендарь</span><span class="t" style="left:36.00px;top:93.97px;font-size:78px;font-weight:700;color:#FED52A;transform:scaleX(1.0635);transform-origin:0 0">скидок</span><span class="t" style="left:842.40px;top:126.76px;font-size:19.3px;font-weight:700;color:#fff;transform:scaleX(1.0810);transform-origin:0 0;-webkit-text-stroke:0.4px #fff">МАГНИТ</span><span class="t" style="left:842.40px;top:150.56px;font-size:19.3px;font-weight:700;color:#fff;transform:scaleX(1.0548);transform-origin:0 0;-webkit-text-stroke:0.4px #fff">СЕМЕЙНЫЙ</span><span class="t" style="left:106.38px;top:258.08px;font-size:22px;font-weight:700;color:#0a0a0a;transform:scaleX(1.0771);transform-origin:50% 0">октября</span><span class="t" style="left:448.70px;top:214.84px;font-size:25px;font-weight:700;color:#0a0a0a;transform:scaleX(1.0021);transform-origin:0 0">Сосиски и сардельки*</span><span class="t" style="left:448.80px;top:254.11px;font-size:10.5px;font-weight:700;color:#0a0a0a;transform:scaleX(1.2531);transform-origin:0 0">*Кроме марок «Моя цена» и «Магнит»,</span><span class="t" style="left:448.80px;top:279.11px;font-size:10.5px;font-weight:700;color:#0a0a0a;transform:scaleX(1.2840);transform-origin:0 0">колбасок, купатов</span><span class="t" style="left:106.38px;top:397.88px;font-size:22px;font-weight:700;color:#0a0a0a;transform:scaleX(1.0771);transform-origin:50% 0">октября</span><span class="t" style="left:448.70px;top:368.34px;font-size:25px;font-weight:700;color:#0a0a0a;transform:scaleX(0.9808);transform-origin:0 0">Консервы рыбные</span><span class="t" style="left:448.70px;top:393.84px;font-size:25px;font-weight:700;color:#0a0a0a;transform:scaleX(0.9581);transform-origin:0 0">и мясные**</span><span class="t" style="left:106.38px;top:537.68px;font-size:22px;font-weight:700;color:#0a0a0a;transform:scaleX(1.0771);transform-origin:50% 0">октября</span><span class="t" style="left:448.70px;top:521.34px;font-size:25px;font-weight:700;color:#0a0a0a;transform:scaleX(1.0035);transform-origin:0 0">Чай***</span><span class="t" style="left:106.38px;top:677.48px;font-size:22px;font-weight:700;color:#0a0a0a;transform:scaleX(1.0771);transform-origin:50% 0">октября</span><span class="t" style="left:448.70px;top:621.34px;font-size:25px;font-weight:700;color:#0a0a0a;transform:scaleX(1.0016);transform-origin:0 0">Сухие детские смеси,</span><span class="t" style="left:448.70px;top:647.84px;font-size:25px;font-weight:700;color:#0a0a0a;transform:scaleX(1.0234);transform-origin:0 0">детские каши, пюре,</span><span class="t" style="left:448.70px;top:673.54px;font-size:25px;font-weight:700;color:#0a0a0a;transform:scaleX(1.0165);transform-origin:0 0">печенье детское, соки,</span><span class="t" style="left:448.70px;top:699.54px;font-size:25px;font-weight:700;color:#0a0a0a;transform:scaleX(1.0036);transform-origin:0 0">чаи****</span><span class="t" style="left:106.38px;top:817.28px;font-size:22px;font-weight:700;color:#0a0a0a;transform:scaleX(1.0771);transform-origin:50% 0">октября</span><span class="t" style="left:448.70px;top:800.54px;font-size:25px;font-weight:700;color:#0a0a0a;transform:scaleX(1.0374);transform-origin:0 0">Подгузники для детей</span><span class="t" style="left:106.38px;top:957.08px;font-size:22px;font-weight:700;color:#0a0a0a;transform:scaleX(1.0771);transform-origin:50% 0">октября</span><span class="t" style="left:448.70px;top:914.84px;font-size:25px;font-weight:700;color:#0a0a0a;transform:scaleX(1.0206);transform-origin:0 0">Одеколоны, духи,</span><span class="t" style="left:448.70px;top:940.44px;font-size:25px;font-weight:700;color:#0a0a0a;transform:scaleX(1.0020);transform-origin:0 0">парфюмерная</span><span class="t" style="left:448.70px;top:965.84px;font-size:25px;font-weight:700;color:#0a0a0a;transform:scaleX(1.0232);transform-origin:0 0">и туалетная вода</span><span class="t" style="left:104.08px;top:1096.88px;font-size:22px;font-weight:700;color:#0a0a0a;transform:scaleX(1.0771);transform-origin:50% 0">октября</span><span class="t" style="left:448.70px;top:1066.84px;font-size:25px;font-weight:700;color:#0a0a0a;transform:scaleX(0.9957);transform-origin:0 0">Сливочное масло*****</span><span class="t" style="left:448.80px;top:1105.71px;font-size:10.5px;font-weight:700;color:#0a0a0a;transform:scaleX(1.2680);transform-origin:0 0">*****Кроме марок «Моя цена» и «Магнит»</span><span class="t" style="left:104.08px;top:1236.68px;font-size:22px;font-weight:700;color:#0a0a0a;transform:scaleX(1.0771);transform-origin:50% 0">октября</span><span class="t" style="left:448.70px;top:1205.84px;font-size:25px;font-weight:700;color:#0a0a0a;transform:scaleX(1.0157);transform-origin:0 0">Корма и лакомства</span><span class="t" style="left:448.70px;top:1231.54px;font-size:25px;font-weight:700;color:#0a0a0a;transform:scaleX(1.0130);transform-origin:0 0">для животных</span><span class="t" style="left:36.00px;top:1322.07px;font-size:10.2px;font-weight:400;color:#fff;transform:scaleX(1.1248);transform-origin:0 0">**Кроме детского питания ***Кроме детского чая ****Перед применением проконсультируйтесь у специалиста. Для питания детей раннего возраста предпочтительно грудное</span><span class="t" style="left:36.00px;top:1332.97px;font-size:10.2px;font-weight:400;color:#fff;transform:scaleX(1.1012);transform-origin:0 0">вскармливание.</span><span class="t" style="left:36.20px;top:1376.69px;font-size:13.6px;font-weight:400;color:#2c0a0e;transform:scaleX(1.0984);transform-origin:0 0;-webkit-text-stroke:0.3px #2c0a0e">Акция действует в данном «Магнит Семейный». Скидка предоставляется на кассе и не суммируется с другими скидками, предостав-</span><span class="t" style="left:36.20px;top:1390.41px;font-size:13.6px;font-weight:400;color:#2c0a0e;transform:scaleX(1.0950);transform-origin:0 0;-webkit-text-stroke:0.3px #2c0a0e">ляемыми на кассе. Скидка не распространяется на продукцию собственного производства, на товары, участвующие в других акциях,</span><span class="t" style="left:36.20px;top:1404.13px;font-size:13.6px;font-weight:400;color:#2c0a0e;transform:scaleX(1.0800);transform-origin:0 0;-webkit-text-stroke:0.3px #2c0a0e">выделенные акционным ценником, и товары «Лучшая цена». Изображенные товары указаны для примера и не являются объектом ре-</span><span class="t" style="left:36.20px;top:1417.85px;font-size:13.6px;font-weight:400;color:#2c0a0e;transform:scaleX(1.0841);transform-origin:0 0;-webkit-text-stroke:0.3px #2c0a0e">кламирования. Звоните нам: 8 800 200 90 02 (звонок бесплатный с номеров РФ). Пишите нам: magnit.ru. Оценивайте нас в мобильном</span><span class="t" style="left:36.20px;top:1431.57px;font-size:13.6px;font-weight:400;color:#2c0a0e;transform:scaleX(1.0835);transform-origin:0 0;-webkit-text-stroke:0.3px #2c0a0e">приложении «Магнит».</span>
<div style="position:absolute;right:0;top:0;width:1px;height:1470px;background:#EF4038"></div>
</body></html>
